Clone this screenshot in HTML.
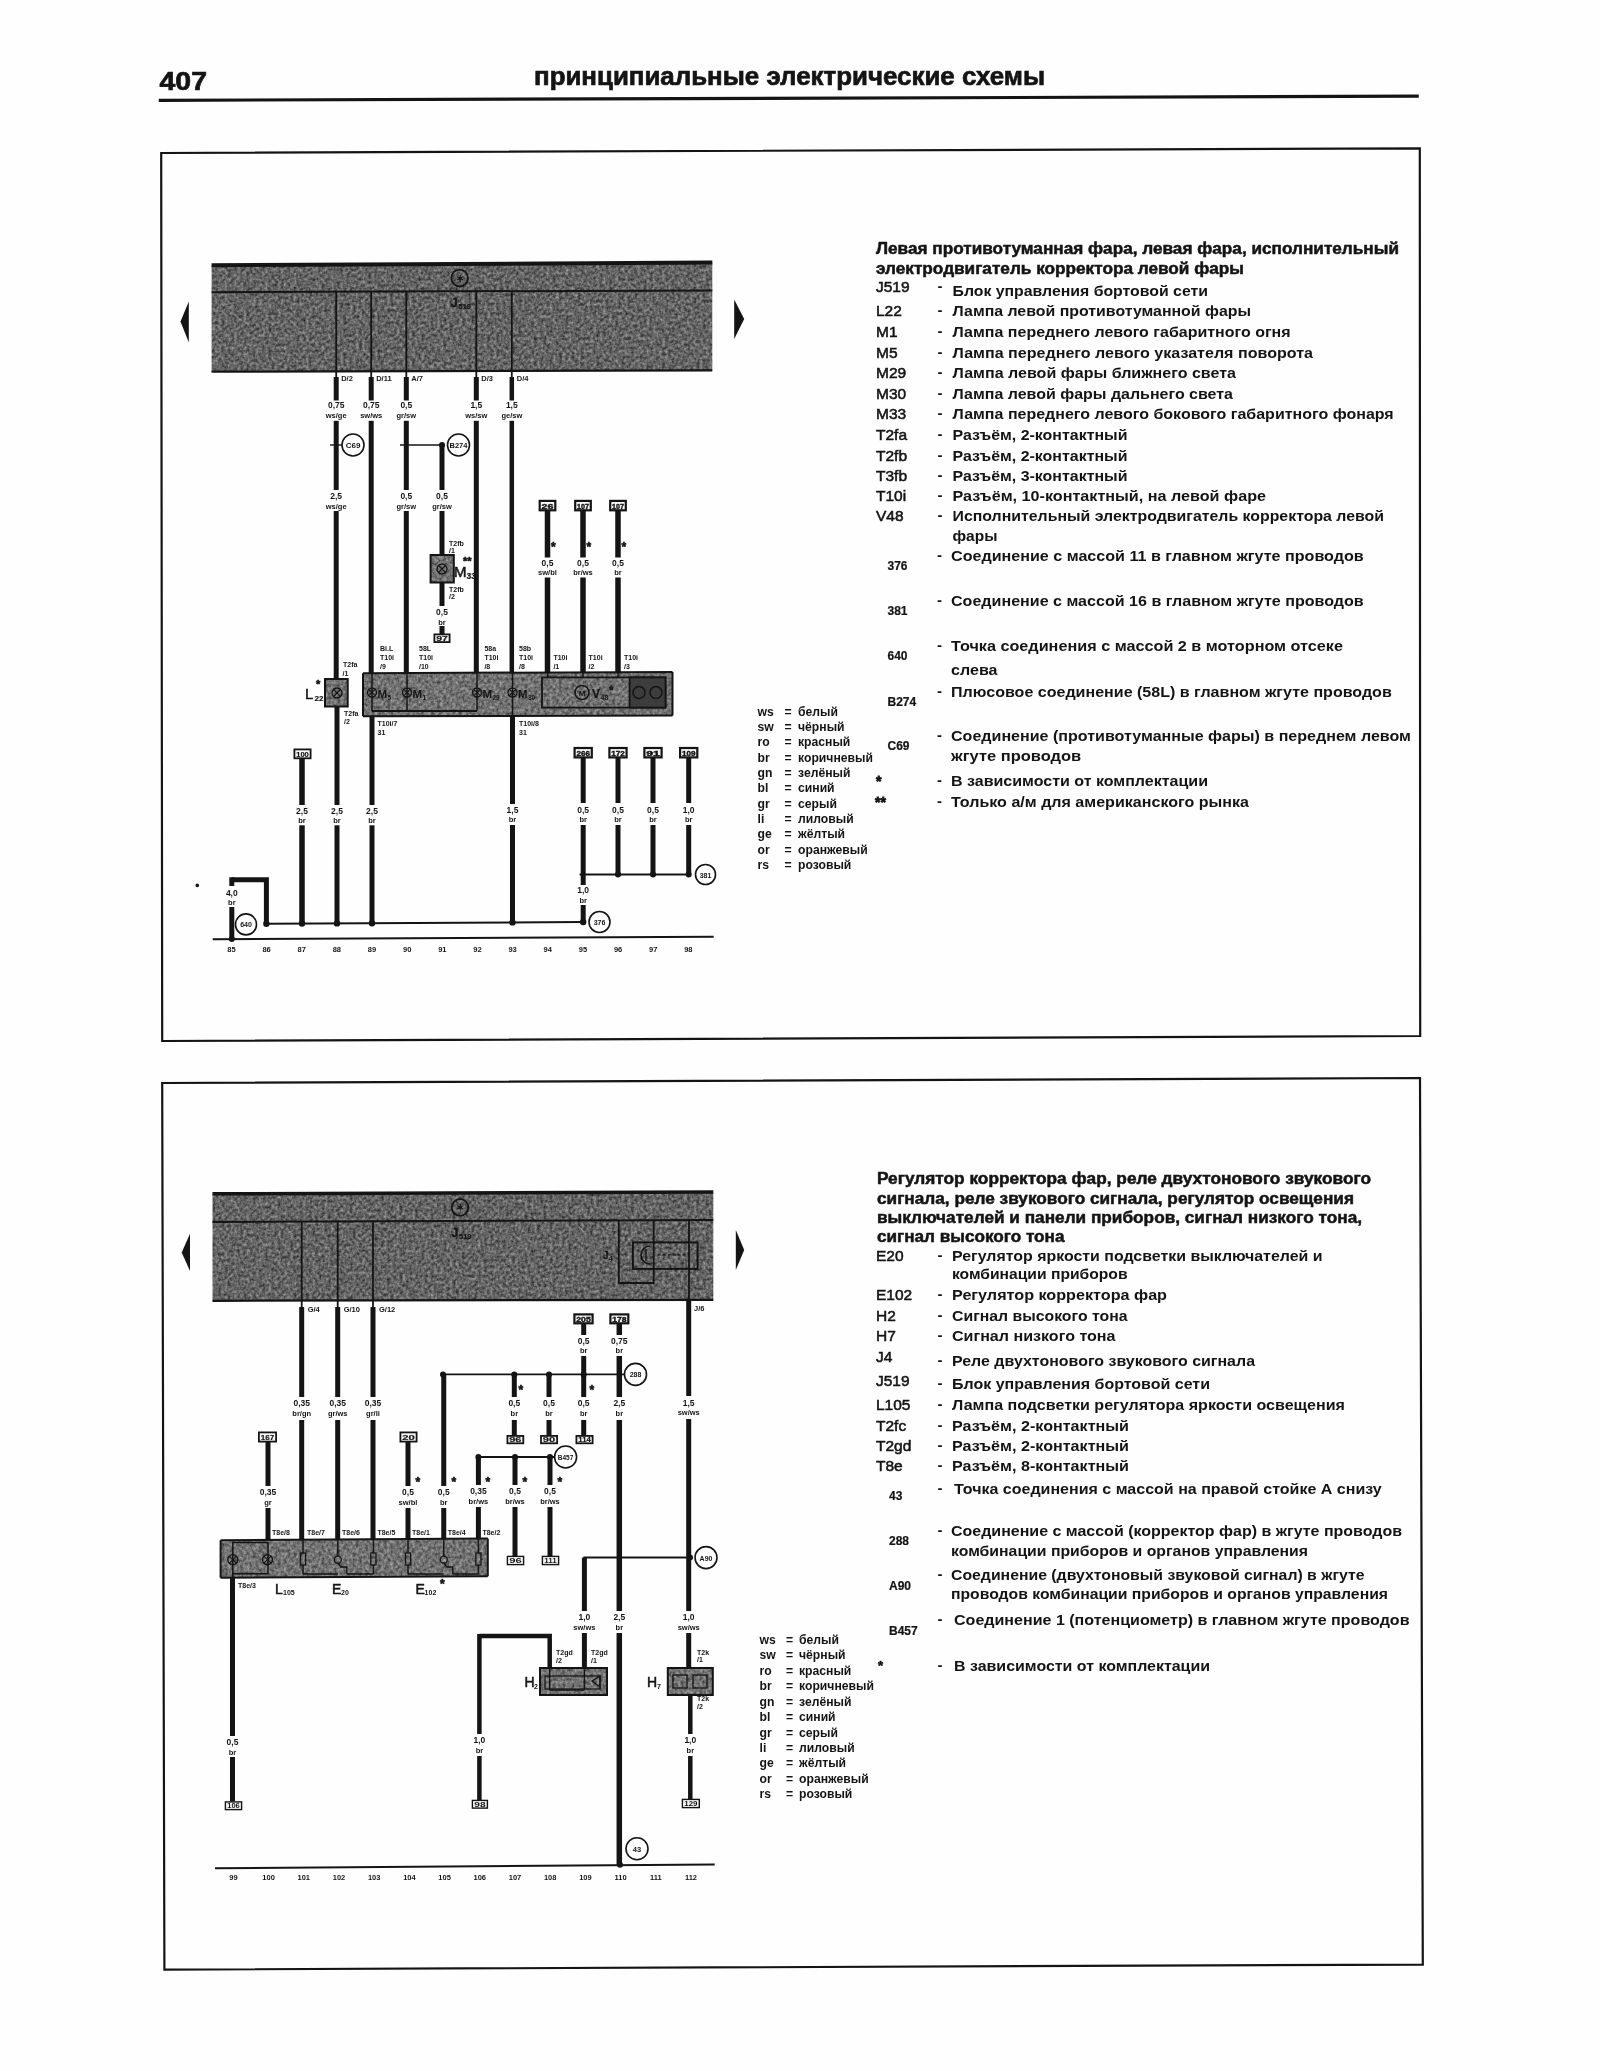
<!DOCTYPE html>
<html><head><meta charset="utf-8"><title>407</title>
<style>
html,body{margin:0;padding:0;background:#fff;}
body{width:1600px;height:2071px;overflow:hidden;}
svg{display:block;font-family:"Liberation Sans", sans-serif;filter:blur(0.45px);}
</style></head>
<body>
<svg width="1600" height="2071" viewBox="0 0 1600 2071">
<defs>
<filter id="grain" x="0" y="0" width="100%" height="100%" color-interpolation-filters="sRGB">
<feTurbulence type="fractalNoise" baseFrequency="0.32" numOctaves="3" seed="4" result="t"/>
<feColorMatrix in="t" type="matrix" values="0.6 0 0 0 0.09  0.6 0 0 0 0.09  0.6 0 0 0 0.09  0 0 0 0 1" result="c"/>
<feComposite in="c" in2="SourceGraphic" operator="in"/>
</filter>
<filter id="grain2" x="0" y="0" width="100%" height="100%" color-interpolation-filters="sRGB">
<feTurbulence type="fractalNoise" baseFrequency="0.32" numOctaves="3" seed="9" result="t"/>
<feColorMatrix in="t" type="matrix" values="0.55 0 0 0 0.17  0.55 0 0 0 0.17  0.55 0 0 0 0.17  0 0 0 0 1" result="c"/>
<feComposite in="c" in2="SourceGraphic" operator="in"/>
</filter>
</defs>
<rect width="1600" height="2071" fill="#fefefe"/>
<text x="159.5" y="89.5" font-size="26.5" font-weight="bold" text-anchor="start" fill="#141414" textLength="47.5" lengthAdjust="spacingAndGlyphs" stroke="#141414" stroke-width="0.7" >407</text>
<text x="534" y="84.5" font-size="25.5" font-weight="bold" text-anchor="start" fill="#141414" textLength="511" lengthAdjust="spacingAndGlyphs" stroke="#141414" stroke-width="0.7" >принципиальные электрические схемы</text>
<line x1="158.75" y1="100.3" x2="1418.75" y2="96.2" stroke="#141414" stroke-width="3.2" stroke-linecap="butt"/>
<polygon points="161.2,153 1419.8,148.3 1420.2,1036 162.2,1041" fill="none" stroke="#141414" stroke-width="2.2" />
<polygon points="162.2,1083 1420,1078 1422.8,1964.6 164.4,1969.6" fill="none" stroke="#141414" stroke-width="2.2" />
<polygon points="211.6,265.2 712.3,262.6 712.3,370.3 211.6,371.7" fill="#000" stroke="none" stroke-width="0" filter="url(#grain)"/>
<line x1="211.6" y1="265.2" x2="712.3" y2="262.6" stroke="#141414" stroke-width="4" stroke-linecap="butt"/>
<line x1="211.6" y1="371.7" x2="712.3" y2="370.3" stroke="#141414" stroke-width="2.2" stroke-linecap="butt"/>
<line x1="211.6" y1="292.2" x2="712.3" y2="290.4" stroke="#141414" stroke-width="2" stroke-linecap="butt"/>
<circle cx="459.6" cy="278" r="8.3" fill="none" stroke="#141414" stroke-width="1.8"/>
<text x="459.6" y="281.5" font-size="10" font-weight="bold" text-anchor="middle" fill="#141414" >✶</text>
<text x="451" y="307" font-size="12" font-weight="bold" text-anchor="start" fill="#141414" stroke="#141414" stroke-width="0.4" >J</text>
<text x="458.5" y="309" font-size="7.5" font-weight="bold" text-anchor="start" fill="#141414" stroke="#141414" stroke-width="0.2" >519</text>
<polygon points="180.5,321.5 188.8,301.5 188.8,342.5" fill="#141414" stroke="none" stroke-width="0" />
<polygon points="744.2,319 734.2,299.5 734.2,339" fill="#141414" stroke="none" stroke-width="0" />
<rect x="335.3" y="291.8" width="1.8" height="85.19999999999999" fill="#141414"/>
<text x="341.2" y="380.5" font-size="7.5" font-weight="bold" text-anchor="start" fill="#141414" >D/2</text>
<text x="336.2" y="408" font-size="8.5" font-weight="bold" text-anchor="middle" fill="#141414" >0,75</text>
<text x="336.2" y="417.5" font-size="7.5" font-weight="bold" text-anchor="middle" fill="#141414" >ws/ge</text>
<rect x="370.3" y="291.5" width="1.8" height="85.5" fill="#141414"/>
<text x="376.2" y="380.5" font-size="7.5" font-weight="bold" text-anchor="start" fill="#141414" >D/11</text>
<text x="371.2" y="408" font-size="8.5" font-weight="bold" text-anchor="middle" fill="#141414" >0,75</text>
<text x="371.2" y="417.5" font-size="7.5" font-weight="bold" text-anchor="middle" fill="#141414" >sw/ws</text>
<rect x="405.40000000000003" y="291.3" width="1.8" height="85.69999999999999" fill="#141414"/>
<text x="411.3" y="380.5" font-size="7.5" font-weight="bold" text-anchor="start" fill="#141414" >A/7</text>
<text x="406.3" y="408" font-size="8.5" font-weight="bold" text-anchor="middle" fill="#141414" >0,5</text>
<text x="406.3" y="417.5" font-size="7.5" font-weight="bold" text-anchor="middle" fill="#141414" >gr/sw</text>
<rect x="475.40000000000003" y="290.8" width="1.8" height="86.19999999999999" fill="#141414"/>
<text x="481.3" y="380.5" font-size="7.5" font-weight="bold" text-anchor="start" fill="#141414" >D/3</text>
<text x="476.3" y="408" font-size="8.5" font-weight="bold" text-anchor="middle" fill="#141414" >1,5</text>
<text x="476.3" y="417.5" font-size="7.5" font-weight="bold" text-anchor="middle" fill="#141414" >ws/sw</text>
<rect x="510.90000000000003" y="290.6" width="1.8" height="86.39999999999998" fill="#141414"/>
<text x="516.8" y="380.5" font-size="7.5" font-weight="bold" text-anchor="start" fill="#141414" >D/4</text>
<text x="511.8" y="408" font-size="8.5" font-weight="bold" text-anchor="middle" fill="#141414" >1,5</text>
<text x="511.8" y="417.5" font-size="7.5" font-weight="bold" text-anchor="middle" fill="#141414" >ge/sw</text>
<rect x="333.7" y="377" width="5" height="23.5" fill="#141414"/>
<rect x="333.7" y="420.8" width="5" height="69.19999999999999" fill="#141414"/>
<rect x="333.7" y="511" width="5" height="168" fill="#141414"/>
<text x="336.2" y="499" font-size="8.5" font-weight="bold" text-anchor="middle" fill="#141414" >2,5</text>
<text x="336.2" y="508.5" font-size="7.5" font-weight="bold" text-anchor="middle" fill="#141414" >ws/ge</text>
<line x1="330" y1="445" x2="342" y2="445" stroke="#141414" stroke-width="1.4" stroke-linecap="butt"/>
<circle cx="353" cy="445" r="11" fill="#fff" stroke="#141414" stroke-width="1.6"/>
<text x="353" y="448" font-size="8" font-weight="bold" text-anchor="middle" fill="#141414" >C69</text>
<rect x="368.7" y="377" width="5" height="23.5" fill="#141414"/>
<rect x="368.7" y="420.8" width="5" height="252.2" fill="#141414"/>
<rect x="403.8" y="377" width="5" height="23.5" fill="#141414"/>
<rect x="403.8" y="420.8" width="5" height="69.19999999999999" fill="#141414"/>
<rect x="403.8" y="511" width="5" height="162" fill="#141414"/>
<text x="406.3" y="499" font-size="8.5" font-weight="bold" text-anchor="middle" fill="#141414" >0,5</text>
<text x="406.3" y="508.5" font-size="7.5" font-weight="bold" text-anchor="middle" fill="#141414" >gr/sw</text>
<line x1="400" y1="445" x2="442" y2="445" stroke="#141414" stroke-width="1.4" stroke-linecap="butt"/>
<circle cx="442" cy="445" r="3" fill="#141414"/>
<rect x="439.5" y="445" width="5" height="45" fill="#141414"/>
<rect x="439.5" y="511" width="5" height="44" fill="#141414"/>
<text x="442" y="499" font-size="8.5" font-weight="bold" text-anchor="middle" fill="#141414" >0,5</text>
<text x="442" y="508.5" font-size="7.5" font-weight="bold" text-anchor="middle" fill="#141414" >gr/sw</text>
<circle cx="458.5" cy="445" r="11" fill="#fff" stroke="#141414" stroke-width="1.6"/>
<text x="458.5" y="448" font-size="7.5" font-weight="bold" text-anchor="middle" fill="#141414" >B274</text>
<rect x="473.8" y="377" width="5" height="23.5" fill="#141414"/>
<rect x="473.8" y="420.8" width="5" height="252.2" fill="#141414"/>
<rect x="509.55" y="377" width="4.5" height="23.5" fill="#141414"/>
<rect x="509.55" y="420.8" width="4.5" height="252.2" fill="#141414"/>
<rect x="430.6" y="555" width="23.2" height="27.5" fill="#000" filter="url(#grain2)"/>
<rect x="430.6" y="555" width="23.2" height="27.5" fill="none" stroke="#141414" stroke-width="2" />
<circle cx="442" cy="569" r="5" fill="none" stroke="#141414" stroke-width="1.3"/>
<line x1="438.5" y1="565.5" x2="445.5" y2="572.5" stroke="#141414" stroke-width="1.1" stroke-linecap="butt"/>
<line x1="438.5" y1="572.5" x2="445.5" y2="565.5" stroke="#141414" stroke-width="1.1" stroke-linecap="butt"/>
<text x="454" y="576.5" font-size="15" font-weight="normal" text-anchor="start" fill="#141414" stroke="#141414" stroke-width="0.5" >M</text>
<text x="466.5" y="578.5" font-size="8.5" font-weight="bold" text-anchor="start" fill="#141414" stroke="#141414" stroke-width="0.2" >33</text>
<text x="463" y="565" font-size="11" font-weight="bold" text-anchor="start" fill="#141414" stroke="#141414" stroke-width="0.6" >**</text>
<text x="449" y="546" font-size="7" font-weight="bold" text-anchor="start" fill="#141414" >T2fb</text>
<text x="449" y="553" font-size="7" font-weight="bold" text-anchor="start" fill="#141414" >/1</text>
<text x="449" y="592" font-size="7" font-weight="bold" text-anchor="start" fill="#141414" >T2fb</text>
<text x="449" y="599" font-size="7" font-weight="bold" text-anchor="start" fill="#141414" >/2</text>
<rect x="439.5" y="582.5" width="5" height="23.5" fill="#141414"/>
<rect x="439.5" y="626" width="5" height="8" fill="#141414"/>
<text x="442" y="615" font-size="8.5" font-weight="bold" text-anchor="middle" fill="#141414" >0,5</text>
<text x="442" y="624.5" font-size="7.5" font-weight="bold" text-anchor="middle" fill="#141414" >br</text>
<rect x="434.4" y="634.4" width="15.2" height="7.7" fill="#f6f6f6" stroke="#141414" stroke-width="1.8" />
<text x="442.0" y="640.7" font-size="8" font-weight="bold" text-anchor="middle" fill="#141414" textLength="11.5" lengthAdjust="spacingAndGlyphs" stroke="#141414" stroke-width="0.2" >97</text>
<rect x="539.6999999999999" y="500.9" width="15.60000000000009" height="9.399999999999988" fill="#f6f6f6" stroke="#141414" stroke-width="2.2" />
<text x="547.5" y="508.9" font-size="8" font-weight="bold" text-anchor="middle" fill="#141414" textLength="11.9" lengthAdjust="spacingAndGlyphs" stroke="#141414" stroke-width="0.45" >26</text>
<rect x="544.75" y="510.7" width="5.5" height="46.80000000000001" fill="#141414"/>
<rect x="544.75" y="577.5" width="5.5" height="94.5" fill="#141414"/>
<text x="547.5" y="565.5" font-size="8.5" font-weight="bold" text-anchor="middle" fill="#141414" >0,5</text>
<text x="547.5" y="575.0" font-size="7.5" font-weight="bold" text-anchor="middle" fill="#141414" >sw/bl</text>
<text x="551.0" y="551" font-size="12" font-weight="bold" text-anchor="start" fill="#141414" stroke="#141414" stroke-width="0.6" >*</text>
<rect x="575.1999999999999" y="500.9" width="15.60000000000009" height="9.399999999999988" fill="#f6f6f6" stroke="#141414" stroke-width="2.2" />
<text x="583.0" y="508.9" font-size="8" font-weight="bold" text-anchor="middle" fill="#141414" textLength="11.9" lengthAdjust="spacingAndGlyphs" stroke="#141414" stroke-width="0.45" >107</text>
<rect x="580.25" y="510.7" width="5.5" height="46.80000000000001" fill="#141414"/>
<rect x="580.25" y="577.5" width="5.5" height="94.5" fill="#141414"/>
<text x="583" y="565.5" font-size="8.5" font-weight="bold" text-anchor="middle" fill="#141414" >0,5</text>
<text x="583" y="575.0" font-size="7.5" font-weight="bold" text-anchor="middle" fill="#141414" >br/ws</text>
<text x="586.5" y="551" font-size="12" font-weight="bold" text-anchor="start" fill="#141414" stroke="#141414" stroke-width="0.6" >*</text>
<rect x="610.1999999999999" y="500.9" width="15.60000000000009" height="9.399999999999988" fill="#f6f6f6" stroke="#141414" stroke-width="2.2" />
<text x="618.0" y="508.9" font-size="8" font-weight="bold" text-anchor="middle" fill="#141414" textLength="11.9" lengthAdjust="spacingAndGlyphs" stroke="#141414" stroke-width="0.45" >107</text>
<rect x="615.25" y="510.7" width="5.5" height="46.80000000000001" fill="#141414"/>
<rect x="615.25" y="577.5" width="5.5" height="94.5" fill="#141414"/>
<text x="618" y="565.5" font-size="8.5" font-weight="bold" text-anchor="middle" fill="#141414" >0,5</text>
<text x="618" y="575.0" font-size="7.5" font-weight="bold" text-anchor="middle" fill="#141414" >br</text>
<text x="621.5" y="551" font-size="12" font-weight="bold" text-anchor="start" fill="#141414" stroke="#141414" stroke-width="0.6" >*</text>
<text x="380" y="651" font-size="7" font-weight="bold" text-anchor="start" fill="#141414" >Bi.L</text>
<text x="380" y="660" font-size="7" font-weight="bold" text-anchor="start" fill="#141414" >T10i</text>
<text x="380" y="669" font-size="7" font-weight="bold" text-anchor="start" fill="#141414" >/9</text>
<text x="419" y="651" font-size="7" font-weight="bold" text-anchor="start" fill="#141414" >58L</text>
<text x="419" y="660" font-size="7" font-weight="bold" text-anchor="start" fill="#141414" >T10i</text>
<text x="419" y="669" font-size="7" font-weight="bold" text-anchor="start" fill="#141414" >/10</text>
<text x="484.4" y="651" font-size="7" font-weight="bold" text-anchor="start" fill="#141414" >58a</text>
<text x="484.4" y="660" font-size="7" font-weight="bold" text-anchor="start" fill="#141414" >T10i</text>
<text x="484.4" y="669" font-size="7" font-weight="bold" text-anchor="start" fill="#141414" >/8</text>
<text x="519" y="651" font-size="7" font-weight="bold" text-anchor="start" fill="#141414" >58b</text>
<text x="519" y="660" font-size="7" font-weight="bold" text-anchor="start" fill="#141414" >T10i</text>
<text x="519" y="669" font-size="7" font-weight="bold" text-anchor="start" fill="#141414" >/8</text>
<text x="553.4" y="660" font-size="7" font-weight="bold" text-anchor="start" fill="#141414" >T10i</text>
<text x="553.4" y="669" font-size="7" font-weight="bold" text-anchor="start" fill="#141414" >/1</text>
<text x="588.6" y="660" font-size="7" font-weight="bold" text-anchor="start" fill="#141414" >T10i</text>
<text x="588.6" y="669" font-size="7" font-weight="bold" text-anchor="start" fill="#141414" >/2</text>
<text x="624" y="660" font-size="7" font-weight="bold" text-anchor="start" fill="#141414" >T10i</text>
<text x="624" y="669" font-size="7" font-weight="bold" text-anchor="start" fill="#141414" >/3</text>
<rect x="325" y="679" width="22.7" height="27.5" fill="#000" filter="url(#grain2)"/>
<rect x="325" y="679" width="22.7" height="27.5" fill="none" stroke="#141414" stroke-width="2" />
<circle cx="337" cy="693" r="5" fill="none" stroke="#141414" stroke-width="1.3"/>
<line x1="333.5" y1="689.5" x2="340.5" y2="696.5" stroke="#141414" stroke-width="1.1" stroke-linecap="butt"/>
<line x1="333.5" y1="696.5" x2="340.5" y2="689.5" stroke="#141414" stroke-width="1.1" stroke-linecap="butt"/>
<text x="305" y="699" font-size="15" font-weight="normal" text-anchor="start" fill="#141414" stroke="#141414" stroke-width="0.5" >L</text>
<text x="314.5" y="701" font-size="8" font-weight="bold" text-anchor="start" fill="#141414" stroke="#141414" stroke-width="0.2" >22</text>
<text x="316" y="688" font-size="11" font-weight="bold" text-anchor="start" fill="#141414" stroke="#141414" stroke-width="0.6" >*</text>
<text x="343" y="667" font-size="7" font-weight="bold" text-anchor="start" fill="#141414" >T2fa</text>
<text x="342.5" y="676" font-size="7" font-weight="bold" text-anchor="start" fill="#141414" >/1</text>
<text x="344" y="716" font-size="7" font-weight="bold" text-anchor="start" fill="#141414" >T2fa</text>
<text x="344" y="724" font-size="7" font-weight="bold" text-anchor="start" fill="#141414" >/2</text>
<polygon points="363,673.2 672.5,672 672.5,715.5 363,716.3" fill="#000" stroke="none" stroke-width="0" filter="url(#grain2)"/>
<line x1="363" y1="673.2" x2="672.5" y2="672" stroke="#141414" stroke-width="2" stroke-linecap="butt"/>
<line x1="363" y1="716.3" x2="672.5" y2="715.5" stroke="#141414" stroke-width="2" stroke-linecap="butt"/>
<line x1="363" y1="673.2" x2="363" y2="716.3" stroke="#141414" stroke-width="2" stroke-linecap="butt"/>
<line x1="672.5" y1="672" x2="672.5" y2="715.5" stroke="#141414" stroke-width="2" stroke-linecap="butt"/>
<line x1="372" y1="711" x2="477" y2="711" stroke="#141414" stroke-width="1.8" stroke-linecap="butt"/>
<line x1="372" y1="673" x2="372" y2="711" stroke="#141414" stroke-width="1.5" stroke-linecap="butt"/>
<line x1="407" y1="673" x2="407" y2="711" stroke="#141414" stroke-width="1.5" stroke-linecap="butt"/>
<line x1="477" y1="673" x2="477" y2="711" stroke="#141414" stroke-width="1.5" stroke-linecap="butt"/>
<line x1="512.5" y1="673" x2="512.5" y2="716" stroke="#141414" stroke-width="1.5" stroke-linecap="butt"/>
<circle cx="372" cy="692.5" r="4.5" fill="none" stroke="#141414" stroke-width="1.3"/>
<line x1="368.85" y1="689.35" x2="375.15" y2="695.65" stroke="#141414" stroke-width="1.1" stroke-linecap="butt"/>
<line x1="368.85" y1="695.65" x2="375.15" y2="689.35" stroke="#141414" stroke-width="1.1" stroke-linecap="butt"/>
<text x="377.5" y="697.5" font-size="11.5" font-weight="bold" text-anchor="start" fill="#141414" >M</text>
<text x="387.5" y="699.5" font-size="6.5" font-weight="bold" text-anchor="start" fill="#141414" >5</text>
<circle cx="407" cy="692.5" r="4.5" fill="none" stroke="#141414" stroke-width="1.3"/>
<line x1="403.85" y1="689.35" x2="410.15" y2="695.65" stroke="#141414" stroke-width="1.1" stroke-linecap="butt"/>
<line x1="403.85" y1="695.65" x2="410.15" y2="689.35" stroke="#141414" stroke-width="1.1" stroke-linecap="butt"/>
<text x="412.5" y="697.5" font-size="11.5" font-weight="bold" text-anchor="start" fill="#141414" >M</text>
<text x="422.5" y="699.5" font-size="6.5" font-weight="bold" text-anchor="start" fill="#141414" >1</text>
<circle cx="477" cy="692.5" r="4.5" fill="none" stroke="#141414" stroke-width="1.3"/>
<line x1="473.85" y1="689.35" x2="480.15" y2="695.65" stroke="#141414" stroke-width="1.1" stroke-linecap="butt"/>
<line x1="473.85" y1="695.65" x2="480.15" y2="689.35" stroke="#141414" stroke-width="1.1" stroke-linecap="butt"/>
<text x="482.5" y="697.5" font-size="11.5" font-weight="bold" text-anchor="start" fill="#141414" >M</text>
<text x="492.5" y="699.5" font-size="6.5" font-weight="bold" text-anchor="start" fill="#141414" >29</text>
<circle cx="512.5" cy="692.5" r="4.5" fill="none" stroke="#141414" stroke-width="1.3"/>
<line x1="509.35" y1="689.35" x2="515.65" y2="695.65" stroke="#141414" stroke-width="1.1" stroke-linecap="butt"/>
<line x1="509.35" y1="695.65" x2="515.65" y2="689.35" stroke="#141414" stroke-width="1.1" stroke-linecap="butt"/>
<text x="518.0" y="697.5" font-size="11.5" font-weight="bold" text-anchor="start" fill="#141414" >M</text>
<text x="528.0" y="699.5" font-size="6.5" font-weight="bold" text-anchor="start" fill="#141414" >30</text>
<rect x="542" y="677.4" width="123.5" height="30.2" fill="none" stroke="#141414" stroke-width="1.8" />
<rect x="629.6" y="677.4" width="35.9" height="30.2" fill="#3d3d3d" stroke="#141414" stroke-width="1.8" />
<line x1="547.7" y1="672" x2="547.7" y2="677.4" stroke="#141414" stroke-width="1.5" stroke-linecap="butt"/>
<line x1="583" y1="672" x2="583" y2="677.4" stroke="#141414" stroke-width="1.5" stroke-linecap="butt"/>
<line x1="618" y1="672" x2="618" y2="677.4" stroke="#141414" stroke-width="1.5" stroke-linecap="butt"/>
<circle cx="582" cy="692.5" r="7" fill="none" stroke="#141414" stroke-width="1.6"/>
<text x="582" y="696" font-size="8" font-weight="bold" text-anchor="middle" fill="#141414" >M</text>
<text x="592" y="698" font-size="12" font-weight="bold" text-anchor="start" fill="#141414" stroke="#141414" stroke-width="0.2" >V</text>
<text x="600.5" y="700" font-size="7" font-weight="bold" text-anchor="start" fill="#141414" >48</text>
<text x="609" y="694" font-size="11" font-weight="bold" text-anchor="start" fill="#141414" stroke="#141414" stroke-width="0.5" >*</text>
<circle cx="639" cy="692.5" r="6" fill="none" stroke="#141414" stroke-width="1.5"/>
<circle cx="656" cy="692.5" r="6" fill="none" stroke="#141414" stroke-width="1.5"/>
<text x="377.5" y="726" font-size="7" font-weight="bold" text-anchor="start" fill="#141414" >T10i/7</text>
<text x="377.5" y="735" font-size="7" font-weight="bold" text-anchor="start" fill="#141414" >31</text>
<text x="519" y="726" font-size="7" font-weight="bold" text-anchor="start" fill="#141414" >T10i/8</text>
<text x="519" y="735" font-size="7" font-weight="bold" text-anchor="start" fill="#141414" >31</text>
<rect x="294.4" y="749.4" width="16.2" height="8.900000000000045" fill="#f6f6f6" stroke="#141414" stroke-width="1.8" />
<text x="302.5" y="756.9000000000001" font-size="8" font-weight="bold" text-anchor="middle" fill="#141414" textLength="12.5" lengthAdjust="spacingAndGlyphs" stroke="#141414" stroke-width="0.2" >100</text>
<rect x="299.25" y="758.7" width="5.5" height="46.299999999999955" fill="#141414"/>
<rect x="299.25" y="825.3" width="5.5" height="98.30000000000007" fill="#141414"/>
<text x="302" y="813.7" font-size="8.5" font-weight="bold" text-anchor="middle" fill="#141414" >2,5</text>
<text x="302" y="823.2" font-size="7.5" font-weight="bold" text-anchor="middle" fill="#141414" >br</text>
<rect x="334.5" y="706.5" width="5" height="98.5" fill="#141414"/>
<rect x="334.5" y="825.3" width="5" height="98.30000000000007" fill="#141414"/>
<text x="337" y="813.7" font-size="8.5" font-weight="bold" text-anchor="middle" fill="#141414" >2,5</text>
<text x="337" y="823.2" font-size="7.5" font-weight="bold" text-anchor="middle" fill="#141414" >br</text>
<rect x="369.5" y="716" width="5" height="89" fill="#141414"/>
<rect x="369.5" y="825.3" width="5" height="98.30000000000007" fill="#141414"/>
<text x="372" y="813.7" font-size="8.5" font-weight="bold" text-anchor="middle" fill="#141414" >2,5</text>
<text x="372" y="823.2" font-size="7.5" font-weight="bold" text-anchor="middle" fill="#141414" >br</text>
<rect x="510.0" y="716" width="5" height="88" fill="#141414"/>
<rect x="510.0" y="825" width="5" height="97.20000000000005" fill="#141414"/>
<text x="512.5" y="812.8" font-size="8.5" font-weight="bold" text-anchor="middle" fill="#141414" >1,5</text>
<text x="512.5" y="822.3" font-size="7.5" font-weight="bold" text-anchor="middle" fill="#141414" >br</text>
<rect x="574.6" y="748.0" width="17.2" height="9.399999999999931" fill="#f6f6f6" stroke="#141414" stroke-width="2.2" />
<text x="583.2" y="756.0" font-size="8" font-weight="bold" text-anchor="middle" fill="#141414" textLength="13.5" lengthAdjust="spacingAndGlyphs" stroke="#141414" stroke-width="0.45" >266</text>
<rect x="580.7" y="757.8" width="5" height="45.200000000000045" fill="#141414"/>
<rect x="580.7" y="825" width="5" height="49.5" fill="#141414"/>
<text x="583.2" y="812.8" font-size="8.5" font-weight="bold" text-anchor="middle" fill="#141414" >0,5</text>
<text x="583.2" y="822.3" font-size="7.5" font-weight="bold" text-anchor="middle" fill="#141414" >br</text>
<rect x="609.4" y="748.0" width="17.2" height="9.399999999999931" fill="#f6f6f6" stroke="#141414" stroke-width="2.2" />
<text x="618.0" y="756.0" font-size="8" font-weight="bold" text-anchor="middle" fill="#141414" textLength="13.5" lengthAdjust="spacingAndGlyphs" stroke="#141414" stroke-width="0.45" >172</text>
<rect x="615.5" y="757.8" width="5" height="45.200000000000045" fill="#141414"/>
<rect x="615.5" y="825" width="5" height="49.5" fill="#141414"/>
<text x="618" y="812.8" font-size="8.5" font-weight="bold" text-anchor="middle" fill="#141414" >0,5</text>
<text x="618" y="822.3" font-size="7.5" font-weight="bold" text-anchor="middle" fill="#141414" >br</text>
<rect x="644.4" y="748.0" width="17.2" height="9.399999999999931" fill="#f6f6f6" stroke="#141414" stroke-width="2.2" />
<text x="653.0" y="756.0" font-size="8" font-weight="bold" text-anchor="middle" fill="#141414" textLength="13.5" lengthAdjust="spacingAndGlyphs" stroke="#141414" stroke-width="0.45" >91</text>
<rect x="650.5" y="757.8" width="5" height="45.200000000000045" fill="#141414"/>
<rect x="650.5" y="825" width="5" height="49.5" fill="#141414"/>
<text x="653" y="812.8" font-size="8.5" font-weight="bold" text-anchor="middle" fill="#141414" >0,5</text>
<text x="653" y="822.3" font-size="7.5" font-weight="bold" text-anchor="middle" fill="#141414" >br</text>
<rect x="680.1" y="748.0" width="17.2" height="9.399999999999931" fill="#f6f6f6" stroke="#141414" stroke-width="2.2" />
<text x="688.7" y="756.0" font-size="8" font-weight="bold" text-anchor="middle" fill="#141414" textLength="13.5" lengthAdjust="spacingAndGlyphs" stroke="#141414" stroke-width="0.45" >109</text>
<rect x="686.2" y="757.8" width="5" height="45.200000000000045" fill="#141414"/>
<rect x="686.2" y="825" width="5" height="49.5" fill="#141414"/>
<text x="688.7" y="812.8" font-size="8.5" font-weight="bold" text-anchor="middle" fill="#141414" >1,0</text>
<text x="688.7" y="822.3" font-size="7.5" font-weight="bold" text-anchor="middle" fill="#141414" >br</text>
<line x1="579.6" y1="874.5" x2="690" y2="874.5" stroke="#141414" stroke-width="2" stroke-linecap="butt"/>
<circle cx="618" cy="874.5" r="3" fill="#141414"/>
<circle cx="653" cy="874.5" r="3" fill="#141414"/>
<circle cx="688.7" cy="874.5" r="3" fill="#141414"/>
<circle cx="705.5" cy="874.5" r="10" fill="#fff" stroke="#141414" stroke-width="1.6"/>
<text x="705.5" y="877.5" font-size="7" font-weight="bold" text-anchor="middle" fill="#141414" >381</text>
<rect x="580.7" y="874.5" width="5" height="10.5" fill="#141414"/>
<rect x="580.7" y="905" width="5" height="17" fill="#141414"/>
<text x="583.2" y="893.4" font-size="8.5" font-weight="bold" text-anchor="middle" fill="#141414" >1,0</text>
<text x="583.2" y="902.9" font-size="7.5" font-weight="bold" text-anchor="middle" fill="#141414" >br</text>
<line x1="266.4" y1="923.8" x2="583.2" y2="922" stroke="#141414" stroke-width="2" stroke-linecap="butt"/>
<circle cx="266.4" cy="923.8" r="3.2" fill="#141414"/>
<circle cx="302" cy="923.6" r="3.2" fill="#141414"/>
<circle cx="337" cy="923.4" r="3.2" fill="#141414"/>
<circle cx="372" cy="923.2" r="3.2" fill="#141414"/>
<circle cx="512.5" cy="922.4" r="3.2" fill="#141414"/>
<circle cx="583.2" cy="922" r="3.2" fill="#141414"/>
<circle cx="599.5" cy="922" r="10.5" fill="#fff" stroke="#141414" stroke-width="1.6"/>
<text x="599.5" y="925" font-size="7" font-weight="bold" text-anchor="middle" fill="#141414" >376</text>
<rect x="229.3" y="877.3" width="5" height="8.700000000000045" fill="#141414"/>
<rect x="229.3" y="907" width="5" height="32" fill="#141414"/>
<polyline points="231.8,879.8 266.4,879.8 266.4,923.6" fill="none" stroke="#141414" stroke-width="5" stroke-linejoin="miter"/>
<text x="231.8" y="895.7" font-size="8.5" font-weight="bold" text-anchor="middle" fill="#141414" >4,0</text>
<text x="231.8" y="905.2" font-size="7.5" font-weight="bold" text-anchor="middle" fill="#141414" >br</text>
<circle cx="246" cy="924.4" r="10.5" fill="#fff" stroke="#141414" stroke-width="1.6"/>
<text x="246" y="927.4" font-size="7" font-weight="bold" text-anchor="middle" fill="#141414" >640</text>
<circle cx="231.8" cy="939" r="3" fill="#141414"/>
<line x1="212.7" y1="939.3" x2="713.7" y2="936.7" stroke="#141414" stroke-width="2" stroke-linecap="butt"/>
<text x="231.4" y="951.5" font-size="7.5" font-weight="bold" text-anchor="middle" fill="#141414" >85</text>
<text x="266.55" y="951.5" font-size="7.5" font-weight="bold" text-anchor="middle" fill="#141414" >86</text>
<text x="301.7" y="951.5" font-size="7.5" font-weight="bold" text-anchor="middle" fill="#141414" >87</text>
<text x="336.85" y="951.5" font-size="7.5" font-weight="bold" text-anchor="middle" fill="#141414" >88</text>
<text x="372.0" y="951.5" font-size="7.5" font-weight="bold" text-anchor="middle" fill="#141414" >89</text>
<text x="407.15" y="951.5" font-size="7.5" font-weight="bold" text-anchor="middle" fill="#141414" >90</text>
<text x="442.29999999999995" y="951.5" font-size="7.5" font-weight="bold" text-anchor="middle" fill="#141414" >91</text>
<text x="477.45" y="951.5" font-size="7.5" font-weight="bold" text-anchor="middle" fill="#141414" >92</text>
<text x="512.6" y="951.5" font-size="7.5" font-weight="bold" text-anchor="middle" fill="#141414" >93</text>
<text x="547.75" y="951.5" font-size="7.5" font-weight="bold" text-anchor="middle" fill="#141414" >94</text>
<text x="582.9" y="951.5" font-size="7.5" font-weight="bold" text-anchor="middle" fill="#141414" >95</text>
<text x="618.05" y="951.5" font-size="7.5" font-weight="bold" text-anchor="middle" fill="#141414" >96</text>
<text x="653.1999999999999" y="951.5" font-size="7.5" font-weight="bold" text-anchor="middle" fill="#141414" >97</text>
<text x="688.35" y="951.5" font-size="7.5" font-weight="bold" text-anchor="middle" fill="#141414" >98</text>
<circle cx="197.3" cy="885.4" r="1.8" fill="#141414"/>
<text x="757.5" y="715.8" font-size="12.2" font-weight="bold" text-anchor="start" fill="#141414" >ws</text>
<text x="784.5" y="715.8" font-size="12.2" font-weight="bold" text-anchor="start" fill="#141414" >=</text>
<text x="798" y="715.8" font-size="12.2" font-weight="bold" text-anchor="start" fill="#141414" >белый</text>
<text x="757.5" y="731.0999999999999" font-size="12.2" font-weight="bold" text-anchor="start" fill="#141414" >sw</text>
<text x="784.5" y="731.0999999999999" font-size="12.2" font-weight="bold" text-anchor="start" fill="#141414" >=</text>
<text x="798" y="731.0999999999999" font-size="12.2" font-weight="bold" text-anchor="start" fill="#141414" >чёрный</text>
<text x="757.5" y="746.4" font-size="12.2" font-weight="bold" text-anchor="start" fill="#141414" >ro</text>
<text x="784.5" y="746.4" font-size="12.2" font-weight="bold" text-anchor="start" fill="#141414" >=</text>
<text x="798" y="746.4" font-size="12.2" font-weight="bold" text-anchor="start" fill="#141414" >красный</text>
<text x="757.5" y="761.6999999999999" font-size="12.2" font-weight="bold" text-anchor="start" fill="#141414" >br</text>
<text x="784.5" y="761.6999999999999" font-size="12.2" font-weight="bold" text-anchor="start" fill="#141414" >=</text>
<text x="798" y="761.6999999999999" font-size="12.2" font-weight="bold" text-anchor="start" fill="#141414" >коричневый</text>
<text x="757.5" y="777.0" font-size="12.2" font-weight="bold" text-anchor="start" fill="#141414" >gn</text>
<text x="784.5" y="777.0" font-size="12.2" font-weight="bold" text-anchor="start" fill="#141414" >=</text>
<text x="798" y="777.0" font-size="12.2" font-weight="bold" text-anchor="start" fill="#141414" >зелёный</text>
<text x="757.5" y="792.3" font-size="12.2" font-weight="bold" text-anchor="start" fill="#141414" >bl</text>
<text x="784.5" y="792.3" font-size="12.2" font-weight="bold" text-anchor="start" fill="#141414" >=</text>
<text x="798" y="792.3" font-size="12.2" font-weight="bold" text-anchor="start" fill="#141414" >синий</text>
<text x="757.5" y="807.5999999999999" font-size="12.2" font-weight="bold" text-anchor="start" fill="#141414" >gr</text>
<text x="784.5" y="807.5999999999999" font-size="12.2" font-weight="bold" text-anchor="start" fill="#141414" >=</text>
<text x="798" y="807.5999999999999" font-size="12.2" font-weight="bold" text-anchor="start" fill="#141414" >серый</text>
<text x="757.5" y="822.9" font-size="12.2" font-weight="bold" text-anchor="start" fill="#141414" >li</text>
<text x="784.5" y="822.9" font-size="12.2" font-weight="bold" text-anchor="start" fill="#141414" >=</text>
<text x="798" y="822.9" font-size="12.2" font-weight="bold" text-anchor="start" fill="#141414" >лиловый</text>
<text x="757.5" y="838.1999999999999" font-size="12.2" font-weight="bold" text-anchor="start" fill="#141414" >ge</text>
<text x="784.5" y="838.1999999999999" font-size="12.2" font-weight="bold" text-anchor="start" fill="#141414" >=</text>
<text x="798" y="838.1999999999999" font-size="12.2" font-weight="bold" text-anchor="start" fill="#141414" >жёлтый</text>
<text x="757.5" y="853.5" font-size="12.2" font-weight="bold" text-anchor="start" fill="#141414" >or</text>
<text x="784.5" y="853.5" font-size="12.2" font-weight="bold" text-anchor="start" fill="#141414" >=</text>
<text x="798" y="853.5" font-size="12.2" font-weight="bold" text-anchor="start" fill="#141414" >оранжевый</text>
<text x="757.5" y="868.8" font-size="12.2" font-weight="bold" text-anchor="start" fill="#141414" >rs</text>
<text x="784.5" y="868.8" font-size="12.2" font-weight="bold" text-anchor="start" fill="#141414" >=</text>
<text x="798" y="868.8" font-size="12.2" font-weight="bold" text-anchor="start" fill="#141414" >розовый</text>
<text x="876" y="253.8" font-size="15.8" font-weight="bold" text-anchor="start" fill="#141414" textLength="523" lengthAdjust="spacingAndGlyphs" stroke="#141414" stroke-width="0.5" >Левая противотуманная фара, левая фара, исполнительный</text>
<text x="876" y="273.8" font-size="15.8" font-weight="bold" text-anchor="start" fill="#141414" textLength="368" lengthAdjust="spacingAndGlyphs" stroke="#141414" stroke-width="0.5" >электродвигатель корректора левой фары</text>
<text x="876" y="292.0" font-size="15.5" font-weight="normal" text-anchor="start" fill="#141414" stroke="#141414" stroke-width="0.55" >J519</text>
<text x="937.5" y="291.0" font-size="15" font-weight="bold" text-anchor="start" fill="#141414" >-</text>
<text x="952.5" y="295.7" font-size="15" font-weight="bold" text-anchor="start" fill="#141414" textLength="255.5" lengthAdjust="spacingAndGlyphs" >Блок управления бортовой сети</text>
<text x="876" y="316.1" font-size="15.5" font-weight="normal" text-anchor="start" fill="#141414" stroke="#141414" stroke-width="0.55" >L22</text>
<text x="937.5" y="315.1" font-size="15" font-weight="bold" text-anchor="start" fill="#141414" >-</text>
<text x="952.5" y="316.1" font-size="15" font-weight="bold" text-anchor="start" fill="#141414" textLength="298.5" lengthAdjust="spacingAndGlyphs" >Лампа левой противотуманной фары</text>
<text x="876" y="336.5" font-size="15.5" font-weight="normal" text-anchor="start" fill="#141414" stroke="#141414" stroke-width="0.55" >M1</text>
<text x="937.5" y="335.5" font-size="15" font-weight="bold" text-anchor="start" fill="#141414" >-</text>
<text x="952.5" y="336.5" font-size="15" font-weight="bold" text-anchor="start" fill="#141414" textLength="338.1" lengthAdjust="spacingAndGlyphs" >Лампа переднего левого габаритного огня</text>
<text x="876" y="357.5" font-size="15.5" font-weight="normal" text-anchor="start" fill="#141414" stroke="#141414" stroke-width="0.55" >M5</text>
<text x="937.5" y="356.5" font-size="15" font-weight="bold" text-anchor="start" fill="#141414" >-</text>
<text x="952.5" y="357.5" font-size="15" font-weight="bold" text-anchor="start" fill="#141414" textLength="360.5" lengthAdjust="spacingAndGlyphs" >Лампа переднего левого указателя поворота</text>
<text x="876" y="378.0" font-size="15.5" font-weight="normal" text-anchor="start" fill="#141414" stroke="#141414" stroke-width="0.55" >M29</text>
<text x="937.5" y="377.0" font-size="15" font-weight="bold" text-anchor="start" fill="#141414" >-</text>
<text x="952.5" y="378.0" font-size="15" font-weight="bold" text-anchor="start" fill="#141414" textLength="283.5" lengthAdjust="spacingAndGlyphs" >Лампа левой фары ближнего света</text>
<text x="876" y="398.5" font-size="15.5" font-weight="normal" text-anchor="start" fill="#141414" stroke="#141414" stroke-width="0.55" >M30</text>
<text x="937.5" y="397.5" font-size="15" font-weight="bold" text-anchor="start" fill="#141414" >-</text>
<text x="952.5" y="398.5" font-size="15" font-weight="bold" text-anchor="start" fill="#141414" textLength="280.5" lengthAdjust="spacingAndGlyphs" >Лампа левой фары дальнего света</text>
<text x="876" y="419.2" font-size="15.5" font-weight="normal" text-anchor="start" fill="#141414" stroke="#141414" stroke-width="0.55" >M33</text>
<text x="937.5" y="418.2" font-size="15" font-weight="bold" text-anchor="start" fill="#141414" >-</text>
<text x="952.5" y="419.2" font-size="15" font-weight="bold" text-anchor="start" fill="#141414" textLength="441.2" lengthAdjust="spacingAndGlyphs" >Лампа переднего левого бокового габаритного фонаря</text>
<text x="876" y="439.9" font-size="15.5" font-weight="normal" text-anchor="start" fill="#141414" stroke="#141414" stroke-width="0.55" >T2fa</text>
<text x="937.5" y="438.9" font-size="15" font-weight="bold" text-anchor="start" fill="#141414" >-</text>
<text x="952.5" y="439.9" font-size="15" font-weight="bold" text-anchor="start" fill="#141414" textLength="175.0" lengthAdjust="spacingAndGlyphs" >Разъём, 2-контактный</text>
<text x="876" y="460.5" font-size="15.5" font-weight="normal" text-anchor="start" fill="#141414" stroke="#141414" stroke-width="0.55" >T2fb</text>
<text x="937.5" y="459.5" font-size="15" font-weight="bold" text-anchor="start" fill="#141414" >-</text>
<text x="952.5" y="460.5" font-size="15" font-weight="bold" text-anchor="start" fill="#141414" textLength="175.0" lengthAdjust="spacingAndGlyphs" >Разъём, 2-контактный</text>
<text x="876" y="481.1" font-size="15.5" font-weight="normal" text-anchor="start" fill="#141414" stroke="#141414" stroke-width="0.55" >T3fb</text>
<text x="937.5" y="480.1" font-size="15" font-weight="bold" text-anchor="start" fill="#141414" >-</text>
<text x="952.5" y="481.1" font-size="15" font-weight="bold" text-anchor="start" fill="#141414" textLength="175.0" lengthAdjust="spacingAndGlyphs" >Разъём, 3-контактный</text>
<text x="876" y="501.0" font-size="15.5" font-weight="normal" text-anchor="start" fill="#141414" stroke="#141414" stroke-width="0.55" >T10i</text>
<text x="937.5" y="500.0" font-size="15" font-weight="bold" text-anchor="start" fill="#141414" >-</text>
<text x="952.5" y="501.0" font-size="15" font-weight="bold" text-anchor="start" fill="#141414" textLength="313.5" lengthAdjust="spacingAndGlyphs" >Разъём, 10-контактный, на левой фаре</text>
<text x="876" y="521.2" font-size="15.5" font-weight="normal" text-anchor="start" fill="#141414" stroke="#141414" stroke-width="0.55" >V48</text>
<text x="937.5" y="520.2" font-size="15" font-weight="bold" text-anchor="start" fill="#141414" >-</text>
<text x="952.5" y="521.2" font-size="15" font-weight="bold" text-anchor="start" fill="#141414" textLength="431.5" lengthAdjust="spacingAndGlyphs" >Исполнительный электродвигатель корректора левой</text>
<text x="952.5" y="541.1" font-size="15" font-weight="bold" text-anchor="start" fill="#141414" textLength="45" lengthAdjust="spacingAndGlyphs" >фары</text>
<text x="887.5" y="570.1" font-size="12" font-weight="bold" text-anchor="start" fill="#141414" stroke="#141414" stroke-width="0.2" >376</text>
<text x="937" y="560.0" font-size="15" font-weight="bold" text-anchor="start" fill="#141414" >-</text>
<text x="951" y="561.0" font-size="15" font-weight="bold" text-anchor="start" fill="#141414" textLength="412.7" lengthAdjust="spacingAndGlyphs" >Соединение с массой 11 в главном жгуте проводов</text>
<text x="887.5" y="615.1" font-size="12" font-weight="bold" text-anchor="start" fill="#141414" stroke="#141414" stroke-width="0.2" >381</text>
<text x="937" y="605.0" font-size="15" font-weight="bold" text-anchor="start" fill="#141414" >-</text>
<text x="951" y="606.0" font-size="15" font-weight="bold" text-anchor="start" fill="#141414" textLength="412.7" lengthAdjust="spacingAndGlyphs" >Соединение с массой 16 в главном жгуте проводов</text>
<text x="887.5" y="660.1" font-size="12" font-weight="bold" text-anchor="start" fill="#141414" stroke="#141414" stroke-width="0.2" >640</text>
<text x="937" y="650.0" font-size="15" font-weight="bold" text-anchor="start" fill="#141414" >-</text>
<text x="951" y="651.0" font-size="15" font-weight="bold" text-anchor="start" fill="#141414" textLength="392" lengthAdjust="spacingAndGlyphs" >Точка соединения с массой 2 в моторном отсеке</text>
<text x="951" y="675.0" font-size="15" font-weight="bold" text-anchor="start" fill="#141414" textLength="46.5" lengthAdjust="spacingAndGlyphs" >слева</text>
<text x="887.5" y="706.2" font-size="12" font-weight="bold" text-anchor="start" fill="#141414" stroke="#141414" stroke-width="0.2" >B274</text>
<text x="937" y="695.5" font-size="15" font-weight="bold" text-anchor="start" fill="#141414" >-</text>
<text x="951" y="696.5" font-size="15" font-weight="bold" text-anchor="start" fill="#141414" textLength="440.8" lengthAdjust="spacingAndGlyphs" >Плюсовое соединение (58L) в главном жгуте проводов</text>
<text x="887.5" y="750.1" font-size="12" font-weight="bold" text-anchor="start" fill="#141414" stroke="#141414" stroke-width="0.2" >C69</text>
<text x="937" y="740.0" font-size="15" font-weight="bold" text-anchor="start" fill="#141414" >-</text>
<text x="951" y="741.0" font-size="15" font-weight="bold" text-anchor="start" fill="#141414" textLength="460" lengthAdjust="spacingAndGlyphs" >Соединение (противотуманные фары) в переднем левом</text>
<text x="951" y="761.2" font-size="15" font-weight="bold" text-anchor="start" fill="#141414" textLength="130.2" lengthAdjust="spacingAndGlyphs" >жгуте проводов</text>
<text x="876" y="786" font-size="14" font-weight="bold" text-anchor="start" fill="#141414" stroke="#141414" stroke-width="0.8" >*</text>
<text x="937" y="785.0" font-size="15" font-weight="bold" text-anchor="start" fill="#141414" >-</text>
<text x="951" y="786.0" font-size="15" font-weight="bold" text-anchor="start" fill="#141414" textLength="257" lengthAdjust="spacingAndGlyphs" >В зависимости от комплектации</text>
<text x="875" y="806.5" font-size="14" font-weight="bold" text-anchor="start" fill="#141414" stroke="#141414" stroke-width="0.8" >**</text>
<text x="937" y="805.5" font-size="15" font-weight="bold" text-anchor="start" fill="#141414" >-</text>
<text x="951" y="806.5" font-size="15" font-weight="bold" text-anchor="start" fill="#141414" textLength="298" lengthAdjust="spacingAndGlyphs" >Только а/м для американского рынка</text>
<polygon points="212.5,1193.8 713.3,1192 713.3,1299.8 212.5,1300.8" fill="#000" stroke="none" stroke-width="0" filter="url(#grain)"/>
<line x1="212.5" y1="1193.8" x2="713.3" y2="1192" stroke="#141414" stroke-width="3.5" stroke-linecap="butt"/>
<line x1="212.5" y1="1300.8" x2="713.3" y2="1299.8" stroke="#141414" stroke-width="2.2" stroke-linecap="butt"/>
<line x1="212.5" y1="1222" x2="713.3" y2="1220" stroke="#141414" stroke-width="2" stroke-linecap="butt"/>
<circle cx="460" cy="1207.5" r="8.3" fill="none" stroke="#141414" stroke-width="1.8"/>
<text x="460" y="1211" font-size="10" font-weight="bold" text-anchor="middle" fill="#141414" >✶</text>
<text x="451.5" y="1237" font-size="12" font-weight="bold" text-anchor="start" fill="#141414" stroke="#141414" stroke-width="0.4" >J</text>
<text x="459" y="1239" font-size="7.5" font-weight="bold" text-anchor="start" fill="#141414" stroke="#141414" stroke-width="0.2" >519</text>
<polygon points="181.7,1252.5 190,1233.7 190,1271" fill="#141414" stroke="none" stroke-width="0" />
<polygon points="744.2,1250 735.8,1230 735.8,1270" fill="#141414" stroke="none" stroke-width="0" />
<polyline points="618.8,1220.5 618.8,1283 653.7,1283 653.7,1220.5" fill="none" stroke="#141414" stroke-width="1.8" stroke-linejoin="miter"/>
<rect x="632.9" y="1242.4" width="64.7" height="26.5" fill="none" stroke="#141414" stroke-width="2" />
<path d="M650,1246 A8,8 0 0 0 650,1264" fill="none" stroke="#141414" stroke-width="1.6"/>
<line x1="646" y1="1249" x2="646" y2="1261" stroke="#141414" stroke-width="1.4" stroke-linecap="butt"/>
<line x1="657.6" y1="1254.8" x2="689" y2="1254.8" stroke="#141414" stroke-width="1.2" stroke-dasharray="3,2"/>
<text x="603" y="1259" font-size="11" font-weight="normal" text-anchor="start" fill="#141414" stroke="#141414" stroke-width="0.5" >J</text>
<text x="609" y="1261" font-size="6.5" font-weight="bold" text-anchor="start" fill="#141414" >4</text>
<line x1="689" y1="1220" x2="689" y2="1300" stroke="#141414" stroke-width="1.8" stroke-linecap="butt"/>
<rect x="300.8" y="1221.5" width="1.8" height="85.5" fill="#141414"/>
<rect x="299.2" y="1307" width="5" height="90" fill="#141414"/>
<rect x="299.2" y="1420" width="5" height="120" fill="#141414"/>
<text x="307.7" y="1311.5" font-size="7.5" font-weight="bold" text-anchor="start" fill="#141414" >G/4</text>
<text x="301.7" y="1406" font-size="8.5" font-weight="bold" text-anchor="middle" fill="#141414" >0,35</text>
<text x="301.7" y="1415.5" font-size="7.5" font-weight="bold" text-anchor="middle" fill="#141414" >br/gn</text>
<rect x="336.8" y="1221.5" width="1.8" height="85.5" fill="#141414"/>
<rect x="335.2" y="1307" width="5" height="90" fill="#141414"/>
<rect x="335.2" y="1420" width="5" height="120" fill="#141414"/>
<text x="343.7" y="1311.5" font-size="7.5" font-weight="bold" text-anchor="start" fill="#141414" >G/10</text>
<text x="337.7" y="1406" font-size="8.5" font-weight="bold" text-anchor="middle" fill="#141414" >0,35</text>
<text x="337.7" y="1415.5" font-size="7.5" font-weight="bold" text-anchor="middle" fill="#141414" >gr/ws</text>
<rect x="372.1" y="1221.5" width="1.8" height="85.5" fill="#141414"/>
<rect x="370.5" y="1307" width="5" height="90" fill="#141414"/>
<rect x="370.5" y="1420" width="5" height="120" fill="#141414"/>
<text x="379" y="1311.5" font-size="7.5" font-weight="bold" text-anchor="start" fill="#141414" >G/12</text>
<text x="373" y="1406" font-size="8.5" font-weight="bold" text-anchor="middle" fill="#141414" >0,35</text>
<text x="373" y="1415.5" font-size="7.5" font-weight="bold" text-anchor="middle" fill="#141414" >gr/li</text>
<rect x="686.2" y="1300" width="5" height="96" fill="#141414"/>
<rect x="686.2" y="1419" width="5" height="192" fill="#141414"/>
<rect x="686.2" y="1633" width="5" height="35" fill="#141414"/>
<text x="694" y="1311" font-size="7.5" font-weight="bold" text-anchor="start" fill="#141414" >J/6</text>
<text x="688.7" y="1405.5" font-size="8.5" font-weight="bold" text-anchor="middle" fill="#141414" >1,5</text>
<text x="688.7" y="1415.0" font-size="7.5" font-weight="bold" text-anchor="middle" fill="#141414" >sw/ws</text>
<text x="688.7" y="1620" font-size="8.5" font-weight="bold" text-anchor="middle" fill="#141414" >1,0</text>
<text x="688.7" y="1629.5" font-size="7.5" font-weight="bold" text-anchor="middle" fill="#141414" >sw/ws</text>
<rect x="574.4" y="1314.4" width="18.2" height="8.900000000000045" fill="#f6f6f6" stroke="#141414" stroke-width="2.2" />
<text x="583.5" y="1321.9" font-size="8" font-weight="bold" text-anchor="middle" fill="#141414" textLength="14.5" lengthAdjust="spacingAndGlyphs" stroke="#141414" stroke-width="0.45" >205</text>
<rect x="610.4" y="1314.4" width="17.900000000000045" height="8.900000000000045" fill="#f6f6f6" stroke="#141414" stroke-width="2.2" />
<text x="619.35" y="1321.9" font-size="8" font-weight="bold" text-anchor="middle" fill="#141414" textLength="14.2" lengthAdjust="spacingAndGlyphs" stroke="#141414" stroke-width="0.45" >178</text>
<rect x="581.2" y="1323.7" width="5" height="11.299999999999955" fill="#141414"/>
<rect x="581.2" y="1356" width="5" height="41" fill="#141414"/>
<rect x="581.2" y="1420" width="5" height="15" fill="#141414"/>
<text x="583.7" y="1343.6" font-size="8.5" font-weight="bold" text-anchor="middle" fill="#141414" >0,5</text>
<text x="583.7" y="1353.1" font-size="7.5" font-weight="bold" text-anchor="middle" fill="#141414" >br</text>
<text x="583.7" y="1406" font-size="8.5" font-weight="bold" text-anchor="middle" fill="#141414" >0,5</text>
<text x="583.7" y="1415.5" font-size="7.5" font-weight="bold" text-anchor="middle" fill="#141414" >br</text>
<text x="589.5" y="1393.5" font-size="12" font-weight="bold" text-anchor="start" fill="#141414" stroke="#141414" stroke-width="0.6" >*</text>
<rect x="616.55" y="1323.7" width="5.5" height="11.299999999999955" fill="#141414"/>
<rect x="616.55" y="1356" width="5.5" height="41" fill="#141414"/>
<rect x="616.55" y="1420" width="5.5" height="191" fill="#141414"/>
<rect x="616.55" y="1633" width="5.5" height="231.70000000000005" fill="#141414"/>
<text x="619.3" y="1343.6" font-size="8.5" font-weight="bold" text-anchor="middle" fill="#141414" >0,75</text>
<text x="619.3" y="1353.1" font-size="7.5" font-weight="bold" text-anchor="middle" fill="#141414" >br</text>
<text x="619.3" y="1406" font-size="8.5" font-weight="bold" text-anchor="middle" fill="#141414" >2,5</text>
<text x="619.3" y="1415.5" font-size="7.5" font-weight="bold" text-anchor="middle" fill="#141414" >br</text>
<text x="619.3" y="1620" font-size="8.5" font-weight="bold" text-anchor="middle" fill="#141414" >2,5</text>
<text x="619.3" y="1629.5" font-size="7.5" font-weight="bold" text-anchor="middle" fill="#141414" >br</text>
<line x1="443" y1="1374.4" x2="625" y2="1374.4" stroke="#141414" stroke-width="1.8" stroke-linecap="butt"/>
<circle cx="635.5" cy="1374.4" r="11" fill="#fff" stroke="#141414" stroke-width="1.6"/>
<text x="635.5" y="1377.4" font-size="7" font-weight="bold" text-anchor="middle" fill="#141414" >288</text>
<circle cx="443" cy="1374.4" r="3" fill="#141414"/>
<circle cx="514.3" cy="1374.4" r="3" fill="#141414"/>
<circle cx="549" cy="1374.4" r="3" fill="#141414"/>
<circle cx="583.7" cy="1374.4" r="3" fill="#141414"/>
<rect x="511.79999999999995" y="1374.4" width="5" height="22.59999999999991" fill="#141414"/>
<rect x="511.79999999999995" y="1420" width="5" height="15" fill="#141414"/>
<text x="514.3" y="1406" font-size="8.5" font-weight="bold" text-anchor="middle" fill="#141414" >0,5</text>
<text x="514.3" y="1415.5" font-size="7.5" font-weight="bold" text-anchor="middle" fill="#141414" >br</text>
<rect x="546.5" y="1374.4" width="5" height="22.59999999999991" fill="#141414"/>
<rect x="546.5" y="1420" width="5" height="15" fill="#141414"/>
<text x="549" y="1406" font-size="8.5" font-weight="bold" text-anchor="middle" fill="#141414" >0,5</text>
<text x="549" y="1415.5" font-size="7.5" font-weight="bold" text-anchor="middle" fill="#141414" >br</text>
<text x="518.5" y="1393.5" font-size="12" font-weight="bold" text-anchor="start" fill="#141414" stroke="#141414" stroke-width="0.6" >*</text>
<rect x="507.4" y="1435.9" width="15.900000000000045" height="7.400000000000046" fill="#f6f6f6" stroke="#141414" stroke-width="1.8" />
<text x="515.35" y="1441.9" font-size="8" font-weight="bold" text-anchor="middle" fill="#141414" textLength="12.2" lengthAdjust="spacingAndGlyphs" stroke="#141414" stroke-width="0.2" >96</text>
<rect x="541.0" y="1435.9" width="16.099999999999977" height="7.400000000000046" fill="#f6f6f6" stroke="#141414" stroke-width="1.8" />
<text x="549.05" y="1441.9" font-size="8" font-weight="bold" text-anchor="middle" fill="#141414" textLength="12.4" lengthAdjust="spacingAndGlyphs" stroke="#141414" stroke-width="0.2" >90</text>
<rect x="576.4" y="1435.9" width="16.2" height="7.400000000000046" fill="#f6f6f6" stroke="#141414" stroke-width="1.8" />
<text x="584.5" y="1441.9" font-size="8" font-weight="bold" text-anchor="middle" fill="#141414" textLength="12.5" lengthAdjust="spacingAndGlyphs" stroke="#141414" stroke-width="0.2" >114</text>
<rect x="441.25" y="1374.4" width="5" height="111.59999999999991" fill="#141414"/>
<rect x="441.25" y="1508" width="5" height="32" fill="#141414"/>
<text x="443.75" y="1495" font-size="8.5" font-weight="bold" text-anchor="middle" fill="#141414" >0,5</text>
<text x="443.75" y="1504.5" font-size="7.5" font-weight="bold" text-anchor="middle" fill="#141414" >br</text>
<text x="451.5" y="1486" font-size="12" font-weight="bold" text-anchor="start" fill="#141414" stroke="#141414" stroke-width="0.6" >*</text>
<rect x="258.9" y="1432.4" width="17.2" height="9.2" fill="#f6f6f6" stroke="#141414" stroke-width="1.8" />
<text x="267.5" y="1440.2" font-size="8" font-weight="bold" text-anchor="middle" fill="#141414" textLength="13.5" lengthAdjust="spacingAndGlyphs" stroke="#141414" stroke-width="0.2" >167</text>
<rect x="265.5" y="1442" width="5" height="44" fill="#141414"/>
<rect x="265.5" y="1508" width="5" height="32" fill="#141414"/>
<text x="268" y="1495" font-size="8.5" font-weight="bold" text-anchor="middle" fill="#141414" >0,35</text>
<text x="268" y="1504.5" font-size="7.5" font-weight="bold" text-anchor="middle" fill="#141414" >gr</text>
<rect x="400.4" y="1432.4" width="16.2" height="9.2" fill="#f6f6f6" stroke="#141414" stroke-width="1.8" />
<text x="408.5" y="1440.2" font-size="8" font-weight="bold" text-anchor="middle" fill="#141414" textLength="12.5" lengthAdjust="spacingAndGlyphs" stroke="#141414" stroke-width="0.2" >20</text>
<rect x="405.5" y="1442" width="5" height="44" fill="#141414"/>
<rect x="405.5" y="1508" width="5" height="32" fill="#141414"/>
<text x="408" y="1495" font-size="8.5" font-weight="bold" text-anchor="middle" fill="#141414" >0,5</text>
<text x="408" y="1504.5" font-size="7.5" font-weight="bold" text-anchor="middle" fill="#141414" >sw/bl</text>
<text x="415.5" y="1486" font-size="12" font-weight="bold" text-anchor="start" fill="#141414" stroke="#141414" stroke-width="0.6" >*</text>
<line x1="478" y1="1457" x2="555" y2="1457" stroke="#141414" stroke-width="1.8" stroke-linecap="butt"/>
<circle cx="565.6" cy="1457" r="11" fill="#fff" stroke="#141414" stroke-width="1.6"/>
<text x="565.6" y="1460" font-size="6.5" font-weight="bold" text-anchor="middle" fill="#141414" >B457</text>
<circle cx="478.4" cy="1457" r="3" fill="#141414"/>
<circle cx="515" cy="1457" r="3" fill="#141414"/>
<circle cx="550" cy="1457" r="3" fill="#141414"/>
<rect x="475.9" y="1457" width="5" height="28" fill="#141414"/>
<rect x="475.9" y="1507" width="5" height="33" fill="#141414"/>
<text x="478.4" y="1494" font-size="8.5" font-weight="bold" text-anchor="middle" fill="#141414" >0,35</text>
<text x="478.4" y="1503.5" font-size="7.5" font-weight="bold" text-anchor="middle" fill="#141414" >br/ws</text>
<text x="485.5" y="1486" font-size="12" font-weight="bold" text-anchor="start" fill="#141414" stroke="#141414" stroke-width="0.6" >*</text>
<rect x="512.5" y="1457" width="5" height="28" fill="#141414"/>
<rect x="512.5" y="1507" width="5" height="49" fill="#141414"/>
<text x="515" y="1494" font-size="8.5" font-weight="bold" text-anchor="middle" fill="#141414" >0,5</text>
<text x="515" y="1503.5" font-size="7.5" font-weight="bold" text-anchor="middle" fill="#141414" >br/ws</text>
<text x="522.5" y="1486" font-size="12" font-weight="bold" text-anchor="start" fill="#141414" stroke="#141414" stroke-width="0.6" >*</text>
<rect x="547.5" y="1457" width="5" height="28" fill="#141414"/>
<rect x="547.5" y="1507" width="5" height="49" fill="#141414"/>
<text x="550" y="1494" font-size="8.5" font-weight="bold" text-anchor="middle" fill="#141414" >0,5</text>
<text x="550" y="1503.5" font-size="7.5" font-weight="bold" text-anchor="middle" fill="#141414" >br/ws</text>
<text x="557.5" y="1486" font-size="12" font-weight="bold" text-anchor="start" fill="#141414" stroke="#141414" stroke-width="0.6" >*</text>
<rect x="507.4" y="1556.4" width="16.2" height="8.2" fill="#f6f6f6" stroke="#141414" stroke-width="1.4" />
<text x="515.5" y="1563.2" font-size="8" font-weight="bold" text-anchor="middle" fill="#141414" textLength="12.5" lengthAdjust="spacingAndGlyphs" >96</text>
<rect x="542.4" y="1556.4" width="16.2" height="8.2" fill="#f6f6f6" stroke="#141414" stroke-width="1.4" />
<text x="550.5" y="1563.2" font-size="8" font-weight="bold" text-anchor="middle" fill="#141414" textLength="12.5" lengthAdjust="spacingAndGlyphs" >111</text>
<polygon points="220.6,1540.3 487.8,1538.6 487.8,1576.2 220.6,1577.7" fill="#000" stroke="none" stroke-width="0" filter="url(#grain2)"/>
<line x1="220.6" y1="1540.3" x2="487.8" y2="1538.6" stroke="#141414" stroke-width="2" stroke-linecap="butt"/>
<line x1="220.6" y1="1577.7" x2="487.8" y2="1576.2" stroke="#141414" stroke-width="2" stroke-linecap="butt"/>
<line x1="220.6" y1="1540.3" x2="220.6" y2="1577.7" stroke="#141414" stroke-width="2" stroke-linecap="butt"/>
<line x1="487.8" y1="1538.6" x2="487.8" y2="1576.2" stroke="#141414" stroke-width="2" stroke-linecap="butt"/>
<text x="272" y="1534.5" font-size="7" font-weight="bold" text-anchor="start" fill="#141414" >T8e/8</text>
<text x="307" y="1534.5" font-size="7" font-weight="bold" text-anchor="start" fill="#141414" >T8e/7</text>
<text x="342" y="1534.5" font-size="7" font-weight="bold" text-anchor="start" fill="#141414" >T8e/6</text>
<text x="377.4" y="1534.5" font-size="7" font-weight="bold" text-anchor="start" fill="#141414" >T8e/5</text>
<text x="412" y="1534.5" font-size="7" font-weight="bold" text-anchor="start" fill="#141414" >T8e/1</text>
<text x="447.75" y="1534.5" font-size="7" font-weight="bold" text-anchor="start" fill="#141414" >T8e/4</text>
<text x="482.4" y="1534.5" font-size="7" font-weight="bold" text-anchor="start" fill="#141414" >T8e/2</text>
<polyline points="232.8,1577 232.8,1542.5 268,1542.5 268,1573.8 232.8,1573.8" fill="none" stroke="#141414" stroke-width="1.5" stroke-linejoin="miter"/>
<circle cx="232.8" cy="1559.7" r="5" fill="none" stroke="#141414" stroke-width="1.3"/>
<line x1="229.3" y1="1556.2" x2="236.3" y2="1563.2" stroke="#141414" stroke-width="1.1" stroke-linecap="butt"/>
<line x1="229.3" y1="1563.2" x2="236.3" y2="1556.2" stroke="#141414" stroke-width="1.1" stroke-linecap="butt"/>
<circle cx="267.5" cy="1559.7" r="5" fill="none" stroke="#141414" stroke-width="1.3"/>
<line x1="264.0" y1="1556.2" x2="271.0" y2="1563.2" stroke="#141414" stroke-width="1.1" stroke-linecap="butt"/>
<line x1="264.0" y1="1563.2" x2="271.0" y2="1556.2" stroke="#141414" stroke-width="1.1" stroke-linecap="butt"/>
<rect x="300.4" y="1553" width="5.2" height="12" fill="none" stroke="#141414" stroke-width="1.3" />
<line x1="303" y1="1539" x2="303" y2="1553" stroke="#141414" stroke-width="1.5" stroke-linecap="butt"/>
<line x1="303" y1="1565" x2="303" y2="1574" stroke="#141414" stroke-width="1.5" stroke-linecap="butt"/>
<rect x="370.79999999999995" y="1553" width="5.2" height="12" fill="none" stroke="#141414" stroke-width="1.3" />
<line x1="373.4" y1="1539" x2="373.4" y2="1553" stroke="#141414" stroke-width="1.5" stroke-linecap="butt"/>
<line x1="373.4" y1="1565" x2="373.4" y2="1574" stroke="#141414" stroke-width="1.5" stroke-linecap="butt"/>
<rect x="405.4" y="1553" width="5.2" height="12" fill="none" stroke="#141414" stroke-width="1.3" />
<line x1="408" y1="1539" x2="408" y2="1553" stroke="#141414" stroke-width="1.5" stroke-linecap="butt"/>
<line x1="408" y1="1565" x2="408" y2="1574" stroke="#141414" stroke-width="1.5" stroke-linecap="butt"/>
<rect x="475.79999999999995" y="1553" width="5.2" height="12" fill="none" stroke="#141414" stroke-width="1.3" />
<line x1="478.4" y1="1539" x2="478.4" y2="1553" stroke="#141414" stroke-width="1.5" stroke-linecap="butt"/>
<line x1="478.4" y1="1565" x2="478.4" y2="1574" stroke="#141414" stroke-width="1.5" stroke-linecap="butt"/>
<circle cx="337.8" cy="1559.7" r="3.5" fill="none" stroke="#141414" stroke-width="1.3"/>
<line x1="337.8" y1="1539" x2="337.8" y2="1556" stroke="#141414" stroke-width="1.5" stroke-linecap="butt"/>
<polyline points="337.8,1563 340.8,1567 346.8,1567 346.8,1574" fill="none" stroke="#141414" stroke-width="1.4" stroke-linejoin="miter"/>
<circle cx="443.75" cy="1559.7" r="3.5" fill="none" stroke="#141414" stroke-width="1.3"/>
<line x1="443.75" y1="1539" x2="443.75" y2="1556" stroke="#141414" stroke-width="1.5" stroke-linecap="butt"/>
<polyline points="443.75,1563 446.75,1567 452.75,1567 452.75,1574" fill="none" stroke="#141414" stroke-width="1.4" stroke-linejoin="miter"/>
<polyline points="303,1574 338,1574" fill="none" stroke="#141414" stroke-width="1.5" stroke-linejoin="miter"/>
<polyline points="347,1574 373.4,1574" fill="none" stroke="#141414" stroke-width="1.5" stroke-linejoin="miter"/>
<polyline points="408,1574 443.75,1574" fill="none" stroke="#141414" stroke-width="1.5" stroke-linejoin="miter"/>
<polyline points="452.75,1574 478.4,1574" fill="none" stroke="#141414" stroke-width="1.5" stroke-linejoin="miter"/>
<text x="275" y="1594" font-size="14" font-weight="normal" text-anchor="start" fill="#141414" stroke="#141414" stroke-width="0.5" >L</text>
<text x="283" y="1595" font-size="7" font-weight="bold" text-anchor="start" fill="#141414" >105</text>
<text x="332" y="1594" font-size="14" font-weight="normal" text-anchor="start" fill="#141414" stroke="#141414" stroke-width="0.5" >E</text>
<text x="341" y="1595" font-size="7" font-weight="bold" text-anchor="start" fill="#141414" >20</text>
<text x="415.6" y="1594" font-size="14" font-weight="normal" text-anchor="start" fill="#141414" stroke="#141414" stroke-width="0.5" >E</text>
<text x="424.6" y="1595" font-size="7" font-weight="bold" text-anchor="start" fill="#141414" >102</text>
<text x="440" y="1588" font-size="12" font-weight="bold" text-anchor="start" fill="#141414" stroke="#141414" stroke-width="0.6" >*</text>
<text x="238" y="1588" font-size="7" font-weight="bold" text-anchor="start" fill="#141414" >T8e/3</text>
<rect x="230.0" y="1577.7" width="5" height="158.29999999999995" fill="#141414"/>
<rect x="230.0" y="1757" width="5" height="44.5" fill="#141414"/>
<text x="232.5" y="1745" font-size="8.5" font-weight="bold" text-anchor="middle" fill="#141414" >0,5</text>
<text x="232.5" y="1754.5" font-size="7.5" font-weight="bold" text-anchor="middle" fill="#141414" >br</text>
<rect x="225.4" y="1801.9" width="16.2" height="7.7" fill="#f6f6f6" stroke="#141414" stroke-width="1.4" />
<text x="233.5" y="1808.2" font-size="8" font-weight="bold" text-anchor="middle" fill="#141414" textLength="12.5" lengthAdjust="spacingAndGlyphs" >106</text>
<polyline points="584.4,1566 584.4,1557.6 690,1557.6" fill="none" stroke="#141414" stroke-width="2" stroke-linejoin="miter"/>
<rect x="581.9" y="1557.6" width="5" height="53.40000000000009" fill="#141414"/>
<rect x="581.9" y="1633" width="5" height="35" fill="#141414"/>
<text x="584.4" y="1620" font-size="8.5" font-weight="bold" text-anchor="middle" fill="#141414" >1,0</text>
<text x="584.4" y="1629.5" font-size="7.5" font-weight="bold" text-anchor="middle" fill="#141414" >sw/ws</text>
<circle cx="690" cy="1557.6" r="3" fill="#141414"/>
<circle cx="706" cy="1557.6" r="11" fill="#fff" stroke="#141414" stroke-width="1.6"/>
<text x="706" y="1560.6" font-size="7" font-weight="bold" text-anchor="middle" fill="#141414" >A90</text>
<rect x="477.15" y="1634" width="4.5" height="100" fill="#141414"/>
<rect x="477.15" y="1756" width="4.5" height="44" fill="#141414"/>
<polyline points="479.4,1636 549.7,1636 549.7,1668" fill="none" stroke="#141414" stroke-width="4.5" stroke-linejoin="miter"/>
<text x="479.4" y="1743" font-size="8.5" font-weight="bold" text-anchor="middle" fill="#141414" >1,0</text>
<text x="479.4" y="1752.5" font-size="7.5" font-weight="bold" text-anchor="middle" fill="#141414" >br</text>
<rect x="472.4" y="1800.4" width="15.00000000000001" height="7.7" fill="#f6f6f6" stroke="#141414" stroke-width="1.4" />
<text x="479.9" y="1806.7" font-size="8" font-weight="bold" text-anchor="middle" fill="#141414" textLength="11.3" lengthAdjust="spacingAndGlyphs" >98</text>
<rect x="540" y="1668" width="67" height="27" fill="#000" filter="url(#grain2)"/>
<rect x="540" y="1668" width="67" height="27" fill="none" stroke="#141414" stroke-width="2" />
<line x1="549.7" y1="1668" x2="549.7" y2="1690" stroke="#141414" stroke-width="1.5" stroke-linecap="butt"/>
<line x1="584.4" y1="1668" x2="584.4" y2="1690" stroke="#141414" stroke-width="1.5" stroke-linecap="butt"/>
<line x1="549.7" y1="1690" x2="584.4" y2="1690" stroke="#141414" stroke-width="1.5" stroke-linecap="butt"/>
<rect x="545" y="1676" width="55" height="13" fill="none" stroke="#141414" stroke-width="1.2" />
<polygon points="592,1681 600,1676 600,1687" fill="none" stroke="#141414" stroke-width="1.3" />
<text x="524.4" y="1687" font-size="14" font-weight="normal" text-anchor="start" fill="#141414" stroke="#141414" stroke-width="0.5" >H</text>
<text x="534" y="1689" font-size="7" font-weight="bold" text-anchor="start" fill="#141414" >2</text>
<text x="556" y="1655" font-size="7" font-weight="bold" text-anchor="start" fill="#141414" >T2gd</text>
<text x="556" y="1663" font-size="7" font-weight="bold" text-anchor="start" fill="#141414" >/2</text>
<text x="591" y="1655" font-size="7" font-weight="bold" text-anchor="start" fill="#141414" >T2gd</text>
<text x="591" y="1663" font-size="7" font-weight="bold" text-anchor="start" fill="#141414" >/1</text>
<rect x="667.8" y="1668" width="45" height="27" fill="#000" filter="url(#grain2)"/>
<rect x="667.8" y="1668" width="45" height="27" fill="none" stroke="#141414" stroke-width="2" />
<rect x="673" y="1675" width="14" height="13" fill="none" stroke="#141414" stroke-width="1.3" />
<rect x="693" y="1675" width="14" height="13" fill="none" stroke="#141414" stroke-width="1.3" />
<text x="647" y="1687" font-size="14" font-weight="normal" text-anchor="start" fill="#141414" stroke="#141414" stroke-width="0.5" >H</text>
<text x="657" y="1689" font-size="7" font-weight="bold" text-anchor="start" fill="#141414" >7</text>
<text x="697" y="1655" font-size="7" font-weight="bold" text-anchor="start" fill="#141414" >T2k</text>
<text x="697" y="1662" font-size="7" font-weight="bold" text-anchor="start" fill="#141414" >/1</text>
<text x="697" y="1701" font-size="7" font-weight="bold" text-anchor="start" fill="#141414" >T2k</text>
<text x="697" y="1709" font-size="7" font-weight="bold" text-anchor="start" fill="#141414" >/2</text>
<rect x="688.05" y="1695" width="4.5" height="39" fill="#141414"/>
<rect x="688.05" y="1756" width="4.5" height="43" fill="#141414"/>
<text x="690.3" y="1743" font-size="8.5" font-weight="bold" text-anchor="middle" fill="#141414" >1,0</text>
<text x="690.3" y="1752.5" font-size="7.5" font-weight="bold" text-anchor="middle" fill="#141414" >br</text>
<rect x="682.4" y="1799.4" width="16.900000000000045" height="8.2" fill="#f6f6f6" stroke="#141414" stroke-width="1.4" />
<text x="690.85" y="1806.2" font-size="8" font-weight="bold" text-anchor="middle" fill="#141414" textLength="13.2" lengthAdjust="spacingAndGlyphs" >129</text>
<circle cx="637" cy="1848.75" r="11" fill="#fff" stroke="#141414" stroke-width="1.6"/>
<text x="637" y="1851.75" font-size="7.5" font-weight="bold" text-anchor="middle" fill="#141414" >43</text>
<circle cx="620" cy="1864.7" r="3" fill="#141414"/>
<line x1="215" y1="1868.2" x2="714.7" y2="1864.6" stroke="#141414" stroke-width="2" stroke-linecap="butt"/>
<text x="233.4" y="1880" font-size="7.5" font-weight="bold" text-anchor="middle" fill="#141414" >99</text>
<text x="268.6" y="1880" font-size="7.5" font-weight="bold" text-anchor="middle" fill="#141414" >100</text>
<text x="303.8" y="1880" font-size="7.5" font-weight="bold" text-anchor="middle" fill="#141414" >101</text>
<text x="339.0" y="1880" font-size="7.5" font-weight="bold" text-anchor="middle" fill="#141414" >102</text>
<text x="374.20000000000005" y="1880" font-size="7.5" font-weight="bold" text-anchor="middle" fill="#141414" >103</text>
<text x="409.4" y="1880" font-size="7.5" font-weight="bold" text-anchor="middle" fill="#141414" >104</text>
<text x="444.6" y="1880" font-size="7.5" font-weight="bold" text-anchor="middle" fill="#141414" >105</text>
<text x="479.80000000000007" y="1880" font-size="7.5" font-weight="bold" text-anchor="middle" fill="#141414" >106</text>
<text x="515.0" y="1880" font-size="7.5" font-weight="bold" text-anchor="middle" fill="#141414" >107</text>
<text x="550.2" y="1880" font-size="7.5" font-weight="bold" text-anchor="middle" fill="#141414" >108</text>
<text x="585.4" y="1880" font-size="7.5" font-weight="bold" text-anchor="middle" fill="#141414" >109</text>
<text x="620.6" y="1880" font-size="7.5" font-weight="bold" text-anchor="middle" fill="#141414" >110</text>
<text x="655.8000000000001" y="1880" font-size="7.5" font-weight="bold" text-anchor="middle" fill="#141414" >111</text>
<text x="691.0" y="1880" font-size="7.5" font-weight="bold" text-anchor="middle" fill="#141414" >112</text>
<text x="759.5" y="1643.8" font-size="12.2" font-weight="bold" text-anchor="start" fill="#141414" >ws</text>
<text x="786" y="1643.8" font-size="12.2" font-weight="bold" text-anchor="start" fill="#141414" >=</text>
<text x="799" y="1643.8" font-size="12.2" font-weight="bold" text-anchor="start" fill="#141414" >белый</text>
<text x="759.5" y="1659.25" font-size="12.2" font-weight="bold" text-anchor="start" fill="#141414" >sw</text>
<text x="786" y="1659.25" font-size="12.2" font-weight="bold" text-anchor="start" fill="#141414" >=</text>
<text x="799" y="1659.25" font-size="12.2" font-weight="bold" text-anchor="start" fill="#141414" >чёрный</text>
<text x="759.5" y="1674.7" font-size="12.2" font-weight="bold" text-anchor="start" fill="#141414" >ro</text>
<text x="786" y="1674.7" font-size="12.2" font-weight="bold" text-anchor="start" fill="#141414" >=</text>
<text x="799" y="1674.7" font-size="12.2" font-weight="bold" text-anchor="start" fill="#141414" >красный</text>
<text x="759.5" y="1690.1499999999999" font-size="12.2" font-weight="bold" text-anchor="start" fill="#141414" >br</text>
<text x="786" y="1690.1499999999999" font-size="12.2" font-weight="bold" text-anchor="start" fill="#141414" >=</text>
<text x="799" y="1690.1499999999999" font-size="12.2" font-weight="bold" text-anchor="start" fill="#141414" >коричневый</text>
<text x="759.5" y="1705.6" font-size="12.2" font-weight="bold" text-anchor="start" fill="#141414" >gn</text>
<text x="786" y="1705.6" font-size="12.2" font-weight="bold" text-anchor="start" fill="#141414" >=</text>
<text x="799" y="1705.6" font-size="12.2" font-weight="bold" text-anchor="start" fill="#141414" >зелёный</text>
<text x="759.5" y="1721.05" font-size="12.2" font-weight="bold" text-anchor="start" fill="#141414" >bl</text>
<text x="786" y="1721.05" font-size="12.2" font-weight="bold" text-anchor="start" fill="#141414" >=</text>
<text x="799" y="1721.05" font-size="12.2" font-weight="bold" text-anchor="start" fill="#141414" >синий</text>
<text x="759.5" y="1736.5" font-size="12.2" font-weight="bold" text-anchor="start" fill="#141414" >gr</text>
<text x="786" y="1736.5" font-size="12.2" font-weight="bold" text-anchor="start" fill="#141414" >=</text>
<text x="799" y="1736.5" font-size="12.2" font-weight="bold" text-anchor="start" fill="#141414" >серый</text>
<text x="759.5" y="1751.95" font-size="12.2" font-weight="bold" text-anchor="start" fill="#141414" >li</text>
<text x="786" y="1751.95" font-size="12.2" font-weight="bold" text-anchor="start" fill="#141414" >=</text>
<text x="799" y="1751.95" font-size="12.2" font-weight="bold" text-anchor="start" fill="#141414" >лиловый</text>
<text x="759.5" y="1767.3999999999999" font-size="12.2" font-weight="bold" text-anchor="start" fill="#141414" >ge</text>
<text x="786" y="1767.3999999999999" font-size="12.2" font-weight="bold" text-anchor="start" fill="#141414" >=</text>
<text x="799" y="1767.3999999999999" font-size="12.2" font-weight="bold" text-anchor="start" fill="#141414" >жёлтый</text>
<text x="759.5" y="1782.85" font-size="12.2" font-weight="bold" text-anchor="start" fill="#141414" >or</text>
<text x="786" y="1782.85" font-size="12.2" font-weight="bold" text-anchor="start" fill="#141414" >=</text>
<text x="799" y="1782.85" font-size="12.2" font-weight="bold" text-anchor="start" fill="#141414" >оранжевый</text>
<text x="759.5" y="1798.3" font-size="12.2" font-weight="bold" text-anchor="start" fill="#141414" >rs</text>
<text x="786" y="1798.3" font-size="12.2" font-weight="bold" text-anchor="start" fill="#141414" >=</text>
<text x="799" y="1798.3" font-size="12.2" font-weight="bold" text-anchor="start" fill="#141414" >розовый</text>
<text x="877" y="1183.5" font-size="15.8" font-weight="bold" text-anchor="start" fill="#141414" textLength="494" lengthAdjust="spacingAndGlyphs" stroke="#141414" stroke-width="0.5" >Регулятор корректора фар, реле двухтонового звукового</text>
<text x="877" y="1203.5" font-size="15.8" font-weight="bold" text-anchor="start" fill="#141414" textLength="477" lengthAdjust="spacingAndGlyphs" stroke="#141414" stroke-width="0.5" >сигнала, реле звукового сигнала, регулятор освещения</text>
<text x="877" y="1223.0" font-size="15.8" font-weight="bold" text-anchor="start" fill="#141414" textLength="485" lengthAdjust="spacingAndGlyphs" stroke="#141414" stroke-width="0.5" >выключателей и панели приборов, сигнал низкого тона,</text>
<text x="877" y="1241.5" font-size="15.8" font-weight="bold" text-anchor="start" fill="#141414" textLength="187.5" lengthAdjust="spacingAndGlyphs" stroke="#141414" stroke-width="0.5" >сигнал высокого тона</text>
<text x="876" y="1260.5" font-size="15.5" font-weight="normal" text-anchor="start" fill="#141414" stroke="#141414" stroke-width="0.55" >E20</text>
<text x="937.5" y="1259.5" font-size="15" font-weight="bold" text-anchor="start" fill="#141414" >-</text>
<text x="952" y="1260.5" font-size="15" font-weight="bold" text-anchor="start" fill="#141414" textLength="370.5" lengthAdjust="spacingAndGlyphs" >Регулятор яркости подсветки выключателей и</text>
<text x="952" y="1279.2" font-size="15" font-weight="bold" text-anchor="start" fill="#141414" textLength="175.5" lengthAdjust="spacingAndGlyphs" >комбинации приборов</text>
<text x="876" y="1299.5" font-size="15.5" font-weight="normal" text-anchor="start" fill="#141414" stroke="#141414" stroke-width="0.55" >E102</text>
<text x="937.5" y="1298.5" font-size="15" font-weight="bold" text-anchor="start" fill="#141414" >-</text>
<text x="952" y="1299.5" font-size="15" font-weight="bold" text-anchor="start" fill="#141414" textLength="215" lengthAdjust="spacingAndGlyphs" >Регулятор корректора фар</text>
<text x="876" y="1320.5" font-size="15.5" font-weight="normal" text-anchor="start" fill="#141414" stroke="#141414" stroke-width="0.55" >H2</text>
<text x="937.5" y="1319.5" font-size="15" font-weight="bold" text-anchor="start" fill="#141414" >-</text>
<text x="952" y="1320.5" font-size="15" font-weight="bold" text-anchor="start" fill="#141414" textLength="175.5" lengthAdjust="spacingAndGlyphs" >Сигнал высокого тона</text>
<text x="876" y="1341.1" font-size="15.5" font-weight="normal" text-anchor="start" fill="#141414" stroke="#141414" stroke-width="0.55" >H7</text>
<text x="937.5" y="1340.1" font-size="15" font-weight="bold" text-anchor="start" fill="#141414" >-</text>
<text x="952" y="1341.1" font-size="15" font-weight="bold" text-anchor="start" fill="#141414" textLength="163.5" lengthAdjust="spacingAndGlyphs" >Сигнал низкого тона</text>
<text x="876" y="1361.5" font-size="15.5" font-weight="normal" text-anchor="start" fill="#141414" stroke="#141414" stroke-width="0.55" >J4</text>
<text x="937.5" y="1364.5" font-size="15" font-weight="bold" text-anchor="start" fill="#141414" >-</text>
<text x="952" y="1365.5" font-size="15" font-weight="bold" text-anchor="start" fill="#141414" textLength="303" lengthAdjust="spacingAndGlyphs" >Реле двухтонового звукового сигнала</text>
<text x="876" y="1386.1" font-size="15.5" font-weight="normal" text-anchor="start" fill="#141414" stroke="#141414" stroke-width="0.55" >J519</text>
<text x="937.5" y="1387.5" font-size="15" font-weight="bold" text-anchor="start" fill="#141414" >-</text>
<text x="952" y="1388.5" font-size="15" font-weight="bold" text-anchor="start" fill="#141414" textLength="258" lengthAdjust="spacingAndGlyphs" >Блок управления бортовой сети</text>
<text x="876" y="1409.5" font-size="15.5" font-weight="normal" text-anchor="start" fill="#141414" stroke="#141414" stroke-width="0.55" >L105</text>
<text x="937.5" y="1408.5" font-size="15" font-weight="bold" text-anchor="start" fill="#141414" >-</text>
<text x="952" y="1409.5" font-size="15" font-weight="bold" text-anchor="start" fill="#141414" textLength="393" lengthAdjust="spacingAndGlyphs" >Лампа подсветки регулятора яркости освещения</text>
<text x="876" y="1430.5" font-size="15.5" font-weight="normal" text-anchor="start" fill="#141414" stroke="#141414" stroke-width="0.55" >T2fc</text>
<text x="937.5" y="1429.5" font-size="15" font-weight="bold" text-anchor="start" fill="#141414" >-</text>
<text x="952" y="1430.5" font-size="15" font-weight="bold" text-anchor="start" fill="#141414" textLength="177" lengthAdjust="spacingAndGlyphs" >Разъём, 2-контактный</text>
<text x="876" y="1450.5" font-size="15.5" font-weight="normal" text-anchor="start" fill="#141414" stroke="#141414" stroke-width="0.55" >T2gd</text>
<text x="937.5" y="1449.5" font-size="15" font-weight="bold" text-anchor="start" fill="#141414" >-</text>
<text x="952" y="1450.5" font-size="15" font-weight="bold" text-anchor="start" fill="#141414" textLength="177" lengthAdjust="spacingAndGlyphs" >Разъём, 2-контактный</text>
<text x="876" y="1470.5" font-size="15.5" font-weight="normal" text-anchor="start" fill="#141414" stroke="#141414" stroke-width="0.55" >T8e</text>
<text x="937.5" y="1469.5" font-size="15" font-weight="bold" text-anchor="start" fill="#141414" >-</text>
<text x="952" y="1470.5" font-size="15" font-weight="bold" text-anchor="start" fill="#141414" textLength="177" lengthAdjust="spacingAndGlyphs" >Разъём, 8-контактный</text>
<text x="889" y="1500.1" font-size="12" font-weight="bold" text-anchor="start" fill="#141414" stroke="#141414" stroke-width="0.2" >43</text>
<text x="937.5" y="1492.5" font-size="15" font-weight="bold" text-anchor="start" fill="#141414" >-</text>
<text x="954" y="1493.5" font-size="15" font-weight="bold" text-anchor="start" fill="#141414" textLength="427.7" lengthAdjust="spacingAndGlyphs" >Точка соединения с массой на правой стойке А снизу</text>
<text x="889" y="1545.1" font-size="12" font-weight="bold" text-anchor="start" fill="#141414" stroke="#141414" stroke-width="0.2" >288</text>
<text x="937.5" y="1535.0" font-size="15" font-weight="bold" text-anchor="start" fill="#141414" >-</text>
<text x="951" y="1536.0" font-size="15" font-weight="bold" text-anchor="start" fill="#141414" textLength="451" lengthAdjust="spacingAndGlyphs" >Соединение с массой (корректор фар) в жгуте проводов</text>
<text x="951" y="1555.5" font-size="15" font-weight="bold" text-anchor="start" fill="#141414" textLength="357" lengthAdjust="spacingAndGlyphs" >комбинации приборов и органов управления</text>
<text x="889" y="1590.1" font-size="12" font-weight="bold" text-anchor="start" fill="#141414" stroke="#141414" stroke-width="0.2" >A90</text>
<text x="937.5" y="1578.9" font-size="15" font-weight="bold" text-anchor="start" fill="#141414" >-</text>
<text x="951" y="1579.9" font-size="15" font-weight="bold" text-anchor="start" fill="#141414" textLength="413.5" lengthAdjust="spacingAndGlyphs" >Соединение (двухтоновый звуковой сигнал) в жгуте</text>
<text x="951" y="1598.5" font-size="15" font-weight="bold" text-anchor="start" fill="#141414" textLength="437" lengthAdjust="spacingAndGlyphs" >проводов комбинации приборов и органов управления</text>
<text x="889" y="1635.1" font-size="12" font-weight="bold" text-anchor="start" fill="#141414" stroke="#141414" stroke-width="0.2" >B457</text>
<text x="937.5" y="1623.9" font-size="15" font-weight="bold" text-anchor="start" fill="#141414" >-</text>
<text x="954" y="1624.9" font-size="15" font-weight="bold" text-anchor="start" fill="#141414" textLength="455.5" lengthAdjust="spacingAndGlyphs" >Соединение 1 (потенциометр) в главном жгуте проводов</text>
<text x="878" y="1670" font-size="13" font-weight="bold" text-anchor="start" fill="#141414" stroke="#141414" stroke-width="0.6" >*</text>
<text x="937.5" y="1670.0" font-size="15" font-weight="bold" text-anchor="start" fill="#141414" >-</text>
<text x="954" y="1671.0" font-size="15" font-weight="bold" text-anchor="start" fill="#141414" textLength="256" lengthAdjust="spacingAndGlyphs" >В зависимости от комплектации</text>
</svg>
</body></html>
